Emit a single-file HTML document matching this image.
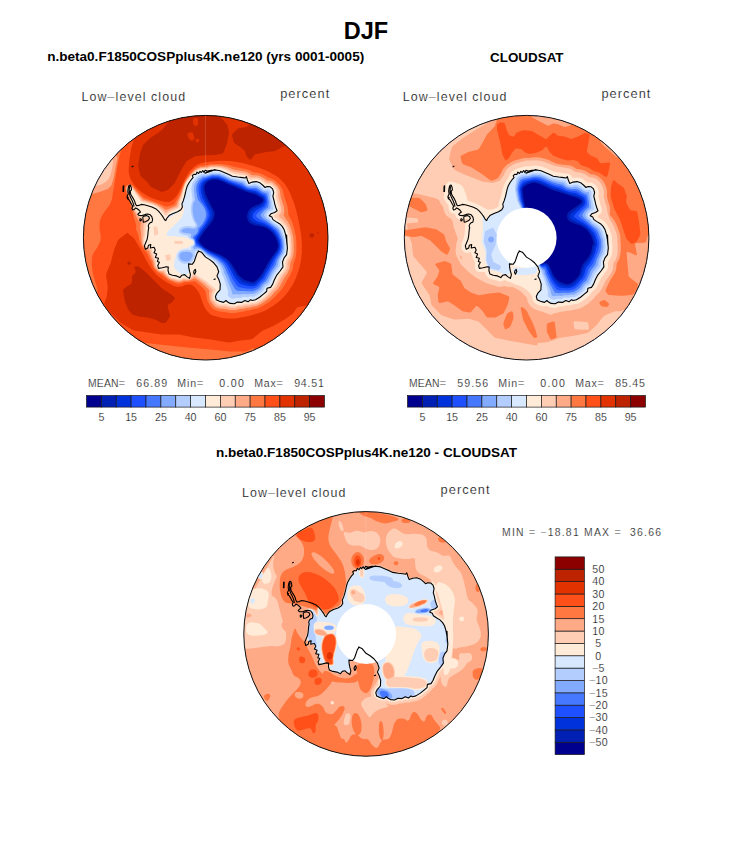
<!DOCTYPE html>
<html><head><meta charset="utf-8"><title>DJF</title>
<style>html,body{margin:0;padding:0;background:#fff}svg{display:block}</style></head><body>
<svg width="733" height="853" viewBox="0 0 733 853">
<defs><clipPath id="clipc"><circle cx="0" cy="0" r="122.3"/></clipPath></defs>
<rect width="733" height="853" fill="#fff"/>
<text x="366.0" y="38.6" font-size="23.50" text-anchor="middle" font-weight="bold" fill="#000" font-family="Liberation Sans, sans-serif"  xml:space="preserve">DJF</text>
<text x="47.2" y="61.0" font-size="13.55" text-anchor="start" font-weight="bold" fill="#000" font-family="Liberation Sans, sans-serif"  xml:space="preserve">n.beta0.F1850COSPplus4K.ne120 (yrs 0001-0005)</text>
<text x="526.8" y="61.8" font-size="13.40" text-anchor="middle" font-weight="bold" fill="#000" font-family="Liberation Sans, sans-serif"  xml:space="preserve">CLOUDSAT</text>
<text x="366.5" y="456.8" font-size="13.52" text-anchor="middle" font-weight="bold" fill="#000" font-family="Liberation Sans, sans-serif"  xml:space="preserve">n.beta0.F1850COSPplus4K.ne120 - CLOUDSAT</text>
<text x="81.6" y="100.8" font-size="12.40" text-anchor="start"  fill="#000" font-family="Liberation Sans, sans-serif"  stroke="#fff" stroke-width="0.22" textLength="103.5" lengthAdjust="spacing" xml:space="preserve">Low–level cloud</text>
<text x="280.2" y="97.6" font-size="12.80" text-anchor="start"  fill="#000" font-family="Liberation Sans, sans-serif"  stroke="#fff" stroke-width="0.22" textLength="49.0" lengthAdjust="spacing" xml:space="preserve">percent</text>
<text x="402.8" y="100.8" font-size="12.40" text-anchor="start"  fill="#000" font-family="Liberation Sans, sans-serif"  stroke="#fff" stroke-width="0.22" textLength="103.5" lengthAdjust="spacing" xml:space="preserve">Low–level cloud</text>
<text x="601.4" y="97.6" font-size="12.80" text-anchor="start"  fill="#000" font-family="Liberation Sans, sans-serif"  stroke="#fff" stroke-width="0.22" textLength="49.0" lengthAdjust="spacing" xml:space="preserve">percent</text>
<text x="242.0" y="496.8" font-size="12.40" text-anchor="start"  fill="#000" font-family="Liberation Sans, sans-serif"  stroke="#fff" stroke-width="0.22" textLength="103.5" lengthAdjust="spacing" xml:space="preserve">Low–level cloud</text>
<text x="440.6" y="493.6" font-size="12.80" text-anchor="start"  fill="#000" font-family="Liberation Sans, sans-serif"  stroke="#fff" stroke-width="0.22" textLength="49.0" lengthAdjust="spacing" xml:space="preserve">percent</text>
<g transform="translate(205.7 237.7)">
<g clip-path="url(#clipc)">
<rect x="-130" y="-130" width="260" height="260" fill="#00008F"/>
<path fill="#0020B4" fill-rule="evenodd" d="M126.0 126.0L-126.0 126.0L-126.0 -126.0L126.0 -126.0L126.0 126.0ZM48.5 44.0L49.3 43.6L52.7 40.5L55.7 36.8L59.7 30.0L62.8 24.3L66.4 19.0L70.6 13.3L71.7 11.1L72.4 8.3L72.0 5.0L70.4 0.7L69.1 -1.7L68.0 -3.2L66.3 -5.2L63.9 -7.7L60.7 -9.7L57.3 -11.0L53.0 -11.9L51.0 -12.0L48.0 -12.8L47.0 -13.3L45.0 -14.3L43.3 -15.5L42.3 -17.1L41.7 -18.9L41.4 -20.0L41.5 -22.7L42.2 -25.7L43.3 -27.8L44.8 -29.3L47.0 -30.7L49.7 -32.1L53.7 -33.6L54.9 -34.3L56.5 -35.7L57.2 -36.7L57.4 -37.3L57.3 -38.3L56.5 -39.3L55.2 -40.3L49.6 -43.3L42.3 -45.5L37.7 -47.3L32.3 -49.5L29.2 -51.0L22.0 -53.7L18.1 -55.7L12.1 -58.0L7.3 -58.1L4.0 -57.3L1.3 -55.8L-0.1 -54.0L-0.8 -52.7L-1.2 -51.3L-1.2 -49.0L-0.5 -45.0L0.6 -41.7L3.6 -35.7L6.0 -31.3L8.6 -26.3L9.0 -23.7L8.6 -21.0L8.0 -19.3L6.5 -16.3L-1.3 -6.5L-5.2 -0.7L-6.4 2.0L-6.5 3.0L-6.4 3.7L-4.0 7.0L-0.8 10.0L4.3 13.0L15.0 17.4L19.7 20.0L22.7 22.3L25.9 26.3L30.2 33.0L31.7 35.7L32.9 37.3L36.0 40.4L38.3 41.8L41.7 43.2L46.0 44.3L47.3 44.3L48.5 44.0Z"/>
<path fill="#0032DC" fill-rule="evenodd" d="M126.0 126.0L-126.0 126.0L-126.0 -126.0L126.0 -126.0L126.0 126.0ZM47.8 46.0L49.3 45.5L50.3 44.8L53.7 41.7L56.7 38.0L67.0 20.3L71.6 14.0L72.6 11.7L73.4 8.7L73.0 4.7L71.7 0.7L70.0 -2.5L67.3 -6.0L64.3 -8.8L61.0 -10.9L57.3 -12.5L53.3 -13.6L51.7 -13.8L48.3 -15.1L45.5 -17.0L44.7 -18.0L44.3 -19.0L43.9 -20.7L44.0 -22.0L44.4 -24.3L45.3 -26.4L46.3 -27.5L48.4 -29.0L50.6 -30.3L54.7 -32.2L56.0 -33.2L57.7 -34.9L58.4 -36.3L58.6 -37.7L58.3 -38.7L57.7 -39.9L56.9 -40.7L50.0 -44.6L48.3 -45.2L43.0 -46.4L40.7 -47.2L30.0 -51.9L22.7 -54.6L18.7 -56.5L12.7 -58.9L11.3 -59.1L7.0 -59.1L3.3 -58.1L0.7 -56.7L-1.8 -54.0L-2.3 -53.0L-2.8 -51.3L-3.0 -48.7L-2.6 -45.7L-1.9 -43.0L-1.2 -41.0L1.9 -34.7L4.5 -30.0L6.4 -26.0L6.7 -23.7L6.5 -21.7L6.2 -20.3L5.2 -18.0L4.0 -16.0L0.0 -10.3L-2.7 -7.0L-6.6 -1.0L-7.9 1.7L-7.9 2.7L-7.6 4.0L-4.9 7.3L-1.3 10.5L4.3 14.0L14.3 18.3L19.0 21.2L21.6 23.3L24.6 27.3L30.9 38.0L35.0 42.6L36.7 43.7L40.3 45.1L45.3 46.2L47.8 46.0Z"/>
<path fill="#1E50FF" fill-rule="evenodd" d="M126.0 126.0L-126.0 126.0L-126.0 -126.0L126.0 -126.0L126.0 126.0ZM47.8 48.3L49.7 47.7L51.0 46.9L57.7 40.0L65.9 26.0L68.7 20.7L72.9 14.3L73.9 12.0L74.6 9.0L74.3 4.7L73.6 2.0L71.3 -3.0L68.8 -6.7L65.0 -10.0L62.0 -12.0L58.0 -14.1L52.3 -16.2L50.6 -17.0L48.2 -18.7L47.6 -19.3L47.3 -20.0L47.0 -21.3L47.2 -23.0L47.5 -24.0L48.1 -25.0L51.3 -27.8L57.0 -31.3L58.8 -33.3L59.7 -35.2L60.0 -36.3L59.9 -38.3L59.3 -39.9L58.7 -41.1L58.0 -41.7L50.3 -46.2L48.7 -46.7L43.3 -47.6L41.0 -48.3L38.7 -49.3L34.7 -51.5L23.0 -55.7L18.8 -57.7L13.0 -60.0L11.7 -60.2L6.7 -60.2L4.0 -59.5L1.3 -58.5L-1.4 -57.0L-2.7 -55.9L-3.6 -54.7L-4.9 -51.7L-5.1 -48.3L-4.7 -45.3L-3.4 -40.3L2.9 -28.0L4.0 -24.7L4.0 -22.0L2.9 -18.7L0.8 -14.7L-1.4 -11.3L-4.3 -7.7L-6.4 -4.0L-8.1 -1.7L-9.3 0.3L-9.6 2.0L-9.2 4.3L-8.3 5.5L-5.6 8.0L-1.8 11.0L2.3 13.9L4.0 14.9L13.3 19.3L16.3 21.3L19.3 23.7L20.6 25.0L22.9 28.3L29.0 39.7L32.3 44.2L33.8 45.7L35.0 46.4L40.0 47.9L45.3 48.6L47.8 48.3Z"/>
<path fill="#4678FF" fill-rule="evenodd" d="M126.0 126.0L-126.0 126.0L-126.0 -126.0L126.0 -126.0L126.0 126.0ZM47.1 51.0L49.3 50.4L51.9 49.0L54.7 45.7L59.0 41.7L63.7 33.3L67.9 26.7L70.1 21.3L74.3 14.7L75.0 13.0L75.8 9.7L75.8 8.3L75.5 4.3L74.9 1.7L72.5 -4.0L70.3 -7.3L66.0 -11.0L62.7 -13.4L60.0 -15.1L55.7 -17.4L52.6 -19.3L51.0 -20.7L50.4 -21.7L50.4 -22.3L50.8 -23.0L52.4 -25.0L58.3 -29.8L60.0 -31.3L60.5 -32.0L61.3 -34.7L61.5 -36.3L61.2 -38.7L60.3 -41.5L59.9 -42.3L59.3 -42.9L56.0 -44.5L50.7 -47.9L48.3 -48.4L44.0 -48.7L41.7 -49.3L39.0 -50.6L35.7 -52.8L23.7 -56.7L17.7 -59.5L13.0 -61.3L6.7 -61.4L-1.3 -58.9L-2.7 -58.2L-4.3 -56.8L-5.8 -54.7L-7.1 -51.7L-7.3 -47.7L-6.5 -43.0L-5.6 -39.3L-4.5 -37.3L-0.6 -31.3L0.7 -28.7L1.8 -25.0L2.0 -22.3L1.5 -20.3L0.9 -18.3L-0.9 -14.7L-2.7 -12.1L-5.4 -9.0L-7.5 -4.3L-10.2 -1.3L-10.9 -0.3L-11.0 0.7L-9.7 5.9L-9.3 6.7L-8.7 7.3L-4.3 10.1L2.3 15.1L12.3 20.4L15.3 22.6L18.1 25.0L20.1 27.7L21.4 30.0L23.3 34.3L27.1 41.7L30.7 47.2L32.3 49.1L33.3 49.5L40.3 50.7L45.3 51.1L47.1 51.0Z"/>
<path fill="#82AAFF" fill-rule="evenodd" d="M126.0 126.0L-126.0 126.0L-126.0 -126.0L126.0 -126.0L126.0 126.0ZM48.3 53.3L50.6 52.3L53.3 50.7L54.0 50.0L56.1 47.0L60.6 43.0L65.5 34.0L70.0 27.3L71.6 22.0L75.8 15.0L76.4 13.3L77.0 10.3L77.1 8.3L76.4 2.0L73.7 -5.0L72.6 -7.0L71.3 -8.6L70.3 -9.5L61.3 -16.4L57.5 -19.0L55.9 -20.7L54.9 -22.3L55.1 -23.3L56.7 -25.3L58.3 -27.1L62.1 -30.3L62.5 -31.0L63.0 -34.3L63.0 -36.3L62.1 -41.3L61.4 -43.7L60.7 -44.3L58.3 -45.1L56.7 -45.8L53.0 -48.5L51.0 -49.6L49.3 -50.0L44.7 -50.0L42.0 -50.5L39.3 -52.0L36.7 -54.2L24.3 -57.8L18.0 -60.7L13.3 -62.5L6.3 -62.6L2.7 -61.4L-1.0 -60.7L-3.2 -60.0L-6.0 -57.9L-8.4 -54.3L-9.2 -52.3L-9.6 -47.7L-8.8 -42.7L-7.9 -38.7L-7.1 -37.3L-3.0 -32.1L-1.3 -29.4L-0.6 -27.7L-0.0 -25.7L0.3 -23.7L0.2 -22.3L-0.3 -19.7L-1.7 -16.4L-3.7 -13.3L-7.1 -9.7L-7.6 -8.3L-7.9 -6.0L-8.3 -5.1L-9.3 -3.9L-12.0 -1.7L-12.7 -0.7L-12.7 0.0L-11.5 1.7L-11.0 3.0L-10.4 6.0L-10.4 8.7L-6.3 10.0L-4.3 11.1L-1.7 13.0L2.3 16.3L11.7 21.7L16.5 26.0L18.2 28.3L19.7 31.3L21.0 35.0L22.6 38.0L25.0 43.7L28.3 49.9L30.0 52.4L31.0 52.8L33.0 53.2L37.0 53.2L41.3 53.6L46.7 53.7L48.3 53.3Z"/>
<path fill="#B4CDFF" fill-rule="evenodd" d="M126.0 126.0L-126.0 126.0L-126.0 -126.0L126.0 -126.0L126.0 126.0ZM35.2 56.7L37.7 56.2L41.3 56.5L44.0 56.2L47.7 56.3L51.0 54.9L54.0 52.9L55.7 51.5L57.7 48.2L59.0 46.9L61.4 45.3L62.1 44.7L67.1 35.0L71.8 28.3L72.2 27.3L73.3 22.3L75.2 18.7L77.0 16.0L77.7 14.0L78.3 11.0L78.4 9.0L77.9 2.3L77.4 0.3L74.9 -6.3L73.6 -8.3L72.3 -10.0L66.0 -14.5L62.7 -17.7L60.3 -19.4L59.3 -20.7L58.5 -22.3L58.4 -23.0L58.7 -23.7L60.0 -25.6L62.3 -27.9L64.5 -29.3L64.8 -30.0L64.7 -35.7L63.8 -40.3L63.2 -45.0L62.9 -45.7L62.3 -46.2L59.7 -46.4L57.6 -47.0L54.0 -49.8L51.7 -51.2L49.7 -51.8L47.3 -51.7L44.7 -51.4L42.3 -51.7L41.3 -52.2L40.0 -53.2L38.3 -55.2L37.7 -55.7L25.0 -58.8L18.3 -61.9L13.7 -63.7L6.3 -63.8L2.3 -62.4L-0.7 -62.2L-3.7 -61.7L-6.3 -60.2L-7.7 -59.0L-10.0 -55.7L-11.3 -53.3L-11.9 -48.7L-11.9 -47.0L-10.6 -38.3L-10.8 -37.3L-12.1 -35.3L-12.7 -33.7L-13.2 -30.0L-13.1 -26.3L-12.5 -22.7L-11.7 -19.5L-10.7 -17.0L-8.4 -13.3L-8.2 -12.3L-8.3 -11.7L-9.3 -10.0L-10.7 -9.2L-12.7 -9.0L-17.7 -9.6L-20.3 -9.4L-22.3 -8.7L-23.6 -8.0L-24.2 -7.3L-24.4 -6.7L-23.9 -6.0L-22.7 -5.3L-20.0 -4.7L-16.0 -4.3L-15.0 -3.9L-14.5 -3.3L-14.4 -2.7L-14.8 -1.0L-14.7 -0.3L-14.2 0.3L-12.0 1.9L-11.3 3.7L-11.0 5.7L-11.0 6.7L-11.3 7.5L-12.3 8.7L-12.7 9.3L-12.6 10.0L-11.7 11.1L-11.3 11.4L-10.7 11.5L-9.0 10.9L-7.7 10.8L-6.0 11.2L-4.3 12.1L-2.5 13.3L1.7 17.1L10.2 22.3L11.4 23.3L15.0 27.0L16.4 29.3L17.8 32.3L18.6 35.7L20.3 39.0L22.5 45.0L25.8 52.7L26.7 56.3L27.3 56.7L30.3 56.5L34.0 56.9L35.2 56.7ZM-18.2 23.7L-15.8 22.7L-15.0 21.9L-14.0 20.5L-13.3 19.1L-13.0 17.7L-13.1 16.7L-13.7 15.6L-14.3 15.0L-15.7 14.4L-18.3 14.0L-23.0 14.2L-24.2 14.7L-25.2 15.3L-26.1 16.7L-26.3 18.3L-26.0 20.1L-25.0 21.8L-23.5 23.0L-22.0 23.6L-20.0 23.8L-18.2 23.7Z"/>
<path fill="#D7E8FF" fill-rule="evenodd" d="M126.0 126.0L-126.0 126.0L-126.0 -126.0L126.0 -126.0L126.0 126.0ZM27.9 61.0L30.7 60.2L35.0 60.4L37.3 59.4L38.3 59.2L40.0 59.2L41.7 59.6L44.3 58.8L47.3 59.0L49.0 58.6L52.2 57.0L55.7 54.5L58.0 52.3L58.8 50.0L59.6 49.0L60.7 48.2L62.7 47.2L63.3 46.6L64.4 45.0L68.7 36.0L71.6 32.3L74.2 28.7L74.8 23.0L76.5 19.3L78.7 16.0L79.6 11.3L79.7 9.0L79.4 6.3L79.3 2.3L78.9 0.0L78.0 -1.7L76.3 -7.0L74.2 -10.3L72.7 -11.8L66.7 -15.9L65.2 -17.3L64.3 -18.7L62.3 -20.1L61.4 -21.3L61.2 -23.0L61.4 -23.7L62.0 -24.7L64.0 -26.5L67.1 -28.0L67.4 -28.7L66.3 -36.0L65.3 -40.3L65.2 -45.3L64.6 -47.0L63.8 -48.0L62.7 -48.4L60.0 -48.1L58.4 -48.3L55.3 -51.0L53.4 -52.3L50.3 -53.5L49.3 -53.6L47.0 -53.3L44.3 -52.7L42.7 -52.9L41.0 -54.2L39.5 -56.7L38.7 -57.3L31.2 -58.7L25.7 -60.0L23.0 -61.0L18.7 -63.1L14.0 -65.0L6.0 -65.1L5.3 -65.0L3.7 -64.1L2.0 -63.6L1.0 -63.5L-0.3 -63.8L-3.0 -63.6L-4.7 -63.2L-7.3 -61.9L-9.8 -60.0L-10.3 -58.7L-13.3 -54.7L-13.7 -53.0L-14.3 -49.0L-14.3 -47.0L-13.0 -38.3L-14.6 -32.3L-14.8 -29.3L-14.7 -26.3L-14.2 -23.0L-13.5 -20.0L-12.1 -16.3L-10.3 -13.7L-10.2 -13.0L-10.3 -12.0L-11.0 -11.3L-12.3 -10.9L-15.0 -11.5L-17.3 -11.8L-19.7 -11.7L-21.7 -11.3L-23.7 -10.5L-25.5 -9.3L-26.4 -8.3L-26.9 -7.0L-26.8 -6.0L-26.4 -5.3L-25.0 -4.0L-22.3 -2.9L-17.7 -2.2L-16.4 0.0L-15.5 0.7L-12.7 2.1L-11.9 3.3L-11.5 5.3L-11.6 6.3L-12.0 7.2L-13.9 8.7L-14.5 9.3L-14.7 10.0L-14.2 11.7L-14.3 12.2L-15.0 12.3L-18.0 11.9L-21.7 12.2L-24.3 12.8L-26.4 14.0L-27.3 15.1L-28.0 16.7L-28.3 18.7L-28.1 20.7L-27.5 22.0L-26.6 23.3L-25.3 24.4L-24.0 25.2L-22.3 25.7L-20.3 26.0L-18.7 26.0L-17.3 25.7L-15.7 25.1L-14.4 24.3L-13.3 23.3L-12.4 22.0L-11.5 20.3L-10.9 18.3L-10.8 17.0L-11.2 15.0L-9.8 13.3L-8.3 12.3L-7.3 12.0L-5.8 12.3L-3.7 13.5L1.0 17.9L9.3 23.4L13.6 28.3L15.7 33.0L16.1 36.0L18.0 40.0L22.2 53.0L22.4 54.0L22.1 57.3L22.2 58.0L24.3 59.9L25.5 60.7L27.0 61.1L27.9 61.0Z"/>
<path fill="#FFEBD7" fill-rule="evenodd" d="M126.0 126.0L-126.0 126.0L-126.0 -126.0L126.0 -126.0L126.0 126.0ZM29.0 66.0L32.0 64.5L34.0 64.8L36.0 64.7L39.0 63.1L39.7 63.1L42.3 64.0L43.0 63.8L44.7 62.6L45.3 62.5L46.3 62.8L47.3 62.8L49.0 62.4L50.8 61.7L53.7 60.0L57.1 57.3L60.8 53.7L61.8 51.0L63.3 50.1L67.1 46.3L71.3 37.3L74.3 33.7L77.2 29.7L77.5 28.7L77.2 26.7L77.3 23.7L78.8 20.3L81.1 16.7L81.8 12.0L81.8 8.3L81.5 5.7L81.5 1.3L81.1 -1.0L80.2 -2.7L78.7 -8.0L77.1 -10.7L73.3 -14.5L68.0 -17.9L64.4 -22.0L64.4 -22.7L65.0 -23.5L67.0 -24.6L68.3 -26.0L69.7 -27.0L70.6 -28.3L70.8 -29.0L69.6 -32.7L67.5 -41.0L67.5 -42.0L68.1 -44.7L68.0 -46.0L67.4 -47.3L64.0 -50.7L63.3 -51.1L62.3 -51.2L59.3 -50.7L58.7 -51.2L56.3 -53.5L54.7 -54.7L53.3 -55.4L51.0 -56.1L48.3 -56.1L46.0 -55.7L44.0 -55.0L43.3 -55.0L41.1 -57.3L40.3 -58.7L38.3 -60.0L32.0 -60.9L26.7 -61.9L23.7 -63.1L19.0 -65.4L15.0 -67.0L13.7 -67.4L9.0 -68.1L5.3 -67.8L4.7 -67.4L3.3 -66.3L1.7 -65.7L1.0 -65.9L-0.3 -66.8L-1.7 -66.2L-2.7 -66.7L-3.3 -66.7L-4.3 -66.1L-5.7 -66.0L-7.0 -65.1L-8.3 -64.7L-10.3 -62.8L-11.8 -62.0L-13.0 -59.9L-16.0 -56.3L-18.0 -53.0L-19.7 -48.3L-21.6 -40.3L-22.6 -37.0L-23.8 -34.0L-23.8 -32.3L-23.3 -30.5L-21.7 -31.5L-21.3 -31.2L-21.2 -30.7L-21.6 -28.0L-23.0 -22.0L-24.0 -20.3L-29.9 -13.7L-37.3 -7.0L-38.2 -5.7L-39.0 -3.7L-39.2 -3.0L-39.1 -2.3L-38.7 -2.0L-38.0 -1.8L-30.3 -1.5L-23.3 -0.8L-19.3 -0.2L-17.0 1.2L-13.4 2.7L-12.8 3.3L-12.5 4.0L-12.3 5.7L-12.7 6.5L-15.7 8.3L-17.3 9.7L-25.0 11.8L-27.0 12.9L-28.1 14.0L-29.2 16.0L-30.1 20.0L-31.1 23.0L-31.7 27.0L-31.7 28.7L-30.7 30.7L-28.7 33.3L-27.7 34.4L-22.8 37.0L-21.0 37.2L-20.0 37.6L-19.7 37.6L-18.0 36.2L-16.1 34.0L-16.8 29.3L-16.6 27.3L-16.3 27.0L-15.0 26.8L-14.3 26.4L-11.0 23.0L-10.2 21.3L-8.5 16.0L-7.7 14.5L-6.7 14.0L-5.7 14.3L-4.3 15.0L0.3 19.8L8.0 25.3L11.0 29.3L12.4 33.0L12.6 34.0L12.5 34.7L11.3 38.3L12.7 41.7L14.4 46.3L14.2 51.3L13.8 52.3L11.9 54.3L10.6 56.3L9.6 58.3L9.6 59.0L9.9 59.7L13.7 63.5L14.7 64.1L17.7 64.7L20.3 63.2L20.8 63.3L23.0 65.0L24.3 65.7L26.7 66.1L29.0 66.0ZM-38.2 -19.3L-27.8 -25.3L-26.1 -26.7L-25.8 -27.0L-26.0 -27.3L-28.0 -26.2L-32.7 -24.6L-35.3 -23.0L-37.4 -21.0L-38.7 -19.3L-38.7 -19.2L-38.2 -19.3Z"/>
<path fill="#FFCDB4" fill-rule="evenodd" d="M126.0 126.0L-126.0 126.0L-126.0 -126.0L126.0 -126.0L126.0 126.0ZM29.1 68.3L32.3 67.2L36.7 67.0L39.3 65.8L41.0 66.1L43.0 66.1L45.7 65.1L48.0 65.0L50.0 64.6L52.0 63.8L56.0 61.3L58.0 59.7L62.1 55.7L64.0 52.8L65.7 51.4L69.0 48.0L73.9 38.0L77.7 33.3L79.4 30.3L79.8 28.7L79.5 25.7L79.6 25.0L80.7 22.0L83.2 18.0L83.7 16.0L84.1 13.0L84.1 7.3L83.8 4.7L83.7 0.0L81.3 -8.0L79.3 -11.7L74.8 -16.3L70.0 -19.6L68.6 -21.0L68.2 -21.7L68.3 -22.0L69.7 -23.1L72.5 -26.0L73.0 -27.0L73.1 -28.0L73.0 -30.3L71.9 -33.7L70.2 -40.7L70.1 -42.3L70.4 -44.0L70.4 -46.3L69.8 -48.3L69.0 -49.7L65.7 -52.8L64.3 -53.3L59.7 -53.6L57.0 -55.9L54.2 -57.7L51.0 -58.4L47.7 -58.4L44.7 -58.0L44.0 -58.4L41.0 -61.3L39.3 -62.3L33.0 -63.1L27.7 -64.2L24.7 -65.3L20.0 -67.6L14.7 -69.5L11.7 -69.9L5.3 -69.9L4.4 -69.7L2.0 -68.4L-3.3 -68.6L-5.1 -68.3L-7.8 -67.3L-10.0 -66.1L-14.4 -61.7L-17.9 -57.3L-19.0 -55.6L-20.7 -52.2L-21.7 -49.2L-23.7 -41.3L-25.9 -34.7L-26.1 -31.3L-26.9 -30.0L-28.0 -29.1L-29.3 -28.4L-34.5 -26.3L-37.0 -24.7L-39.3 -22.4L-40.0 -22.1L-40.7 -22.4L-43.7 -26.3L-47.7 -30.2L-49.3 -31.3L-52.3 -32.8L-56.9 -34.3L-60.3 -35.2L-63.3 -35.7L-64.3 -36.2L-65.4 -37.3L-71.3 -46.0L-74.3 -50.1L-74.7 -50.3L-75.3 -50.4L-78.0 -49.6L-78.4 -49.0L-78.0 -46.7L-75.5 -40.7L-73.7 -34.4L-70.7 -28.7L-68.6 -26.0L-67.0 -23.2L-65.7 -21.7L-64.0 -20.6L-63.0 -20.3L-61.3 -20.2L-58.0 -20.8L-57.0 -20.2L-56.3 -19.0L-56.2 -18.0L-56.5 -17.0L-59.0 -14.1L-59.8 -12.3L-60.1 -5.0L-60.8 -1.0L-61.6 2.7L-61.5 5.7L-61.1 6.7L-59.0 9.7L-58.3 10.1L-57.0 10.0L-56.3 10.2L-54.0 11.8L-53.6 12.3L-53.1 15.3L-52.1 17.3L-51.6 19.7L-50.1 22.3L-49.4 28.3L-49.0 29.1L-48.0 30.3L-46.5 31.7L-45.3 32.2L-42.7 32.3L-41.0 32.1L-40.4 32.3L-39.7 34.6L-39.1 35.7L-35.7 39.1L-33.8 40.0L-30.3 40.8L-27.7 41.6L-25.0 41.6L-24.3 41.3L-22.7 40.2L-22.0 40.0L-21.3 40.1L-20.3 40.7L-19.3 40.9L-17.7 40.9L-16.7 40.7L-15.8 40.0L-13.8 38.0L-13.3 37.0L-13.1 35.0L-12.7 34.7L-4.7 40.2L0.2 43.3L10.4 51.7L10.5 52.0L10.4 52.3L8.7 54.7L7.7 56.7L7.6 60.3L7.9 61.3L8.3 62.0L11.7 65.4L12.7 66.0L15.0 66.7L18.7 66.8L20.3 66.4L22.7 67.6L25.2 68.3L29.1 68.3ZM-50.0 -2.3L-51.0 -2.1L-51.3 -2.5L-51.5 -3.0L-52.1 -10.3L-51.8 -11.0L-51.3 -11.2L-49.3 -11.2L-48.5 -10.7L-47.6 -5.3L-47.5 -4.0L-47.7 -3.6L-50.0 -2.3ZM-23.3 6.1L-30.7 6.1L-31.3 5.7L-31.5 4.0L-31.3 3.7L-30.7 3.4L-23.7 3.2L-23.2 3.7L-22.9 4.7L-22.9 5.7L-23.3 6.1ZM-37.7 23.1L-38.7 23.3L-39.3 22.7L-40.5 18.0L-40.3 17.6L-39.7 17.3L-36.0 16.6L-35.7 16.7L-35.3 17.3L-34.7 21.3L-35.3 22.1L-37.7 23.1Z"/>
<path fill="#FFAA87" fill-rule="evenodd" d="M126.0 126.0L-126.0 126.0L-126.0 -51.5L-116.3 -51.5L-107.7 -52.1L-106.3 -52.5L-103.4 -53.7L-100.1 -55.7L-98.7 -57.0L-97.2 -58.7L-95.4 -62.3L-93.9 -67.7L-92.4 -76.7L-92.7 -77.7L-93.6 -78.3L-103.7 -82.2L-126.0 -85.9L-126.0 -126.0L126.0 -126.0L126.0 126.0ZM30.1 70.0L33.0 69.0L37.0 68.8L39.7 67.9L43.7 67.7L46.0 66.9L48.3 66.7L50.7 66.2L52.3 65.5L55.0 64.0L58.9 61.3L63.8 56.7L65.7 54.2L70.7 49.3L75.8 39.3L79.5 34.3L80.9 32.0L81.5 30.7L81.7 29.3L81.9 25.0L82.7 22.9L84.8 19.0L85.5 16.3L85.8 13.3L85.8 6.7L85.5 4.0L85.4 -0.3L83.1 -8.7L81.6 -12.0L80.7 -13.4L76.5 -18.3L73.3 -21.0L72.9 -21.7L73.1 -22.3L74.8 -24.7L75.4 -26.0L75.5 -27.3L75.4 -30.3L72.2 -41.3L72.3 -43.7L72.0 -47.0L71.3 -49.0L70.2 -50.7L67.3 -53.5L66.3 -54.2L64.7 -54.9L60.6 -55.3L58.0 -57.4L54.7 -59.3L51.7 -60.1L45.3 -60.2L44.7 -60.5L41.7 -63.0L40.0 -63.9L28.0 -66.0L25.3 -66.9L20.7 -68.9L15.7 -70.5L12.3 -71.0L5.0 -70.9L4.0 -70.7L1.7 -69.7L-4.7 -69.5L-8.0 -68.3L-10.3 -67.0L-15.0 -62.2L-19.3 -56.5L-20.6 -54.0L-21.7 -51.3L-24.5 -41.7L-27.0 -35.3L-27.4 -32.3L-28.0 -31.1L-28.7 -30.5L-30.3 -29.7L-35.3 -27.6L-39.7 -25.0L-40.3 -25.2L-42.1 -27.0L-47.0 -31.2L-48.9 -32.3L-52.0 -33.8L-56.3 -35.3L-63.0 -37.0L-63.7 -37.3L-65.0 -38.9L-74.1 -51.0L-75.0 -51.3L-76.3 -51.2L-78.0 -50.6L-78.7 -50.2L-79.0 -49.7L-79.1 -49.0L-78.3 -45.7L-76.0 -40.3L-74.3 -34.3L-71.1 -27.3L-69.6 -25.3L-68.3 -22.7L-65.3 -19.1L-63.7 -18.2L-61.0 -17.6L-60.3 -17.3L-60.4 -16.7L-61.9 -14.0L-62.2 -12.7L-62.2 -3.3L-62.9 2.0L-62.6 6.0L-62.0 7.2L-59.4 10.7L-58.7 11.1L-56.7 11.6L-55.7 12.3L-55.0 13.2L-54.4 16.0L-53.5 17.7L-52.7 20.3L-51.4 22.7L-50.5 28.0L-50.0 29.3L-49.5 30.0L-47.3 32.2L-46.3 33.0L-45.3 33.3L-41.7 33.8L-40.0 36.5L-36.0 40.2L-34.0 41.1L-31.0 41.9L-28.3 42.8L-24.7 42.7L-22.0 41.4L-20.0 41.9L-16.7 41.8L-15.2 41.0L-12.7 39.0L-11.7 38.0L-11.0 38.0L-0.7 45.0L5.7 50.7L7.0 52.0L7.1 52.7L5.8 56.3L6.0 61.3L6.9 63.0L10.7 67.1L12.0 67.8L14.3 68.5L20.0 68.7L22.3 69.6L24.7 70.1L28.3 70.2L30.1 70.0Z"/>
<path fill="#FF7841" fill-rule="evenodd" d="M126.0 126.0L-126.0 126.0L-126.0 -43.2L-120.7 -43.2L-112.7 -43.9L-107.0 -45.5L-100.7 -47.6L-98.0 -48.7L-96.7 -49.7L-95.0 -51.5L-94.2 -52.7L-92.7 -57.3L-91.6 -62.0L-90.4 -69.3L-88.1 -80.3L-88.3 -81.0L-89.3 -81.8L-100.3 -86.2L-126.0 -89.5L-126.0 -126.0L126.0 -126.0L126.0 126.0ZM29.4 72.3L31.0 72.1L33.7 71.2L37.0 71.0L40.3 70.2L44.0 69.8L46.7 69.0L51.0 68.2L53.0 67.4L56.0 65.9L60.3 62.9L65.7 58.2L67.7 55.9L72.8 50.7L78.1 41.0L81.5 36.0L83.5 32.0L84.1 30.0L84.6 25.3L86.9 20.0L87.6 17.0L88.0 13.7L88.0 6.3L87.5 -1.0L85.4 -9.3L83.9 -13.0L82.7 -15.3L78.0 -22.0L77.9 -22.7L78.4 -25.0L78.6 -26.3L78.1 -31.0L74.9 -41.3L74.6 -44.3L74.1 -47.3L73.3 -49.3L71.8 -51.7L69.1 -54.3L67.3 -55.8L65.3 -56.7L61.3 -57.5L59.0 -59.2L55.3 -61.2L52.3 -62.1L46.0 -62.7L42.7 -64.9L40.3 -65.9L28.7 -68.0L21.7 -70.4L17.3 -71.6L15.3 -72.0L12.3 -72.3L5.0 -72.1L4.0 -71.9L1.3 -71.0L-5.0 -70.5L-8.3 -69.2L-10.8 -67.7L-15.3 -62.9L-19.3 -57.7L-21.0 -54.5L-21.8 -52.7L-25.3 -42.1L-28.2 -35.7L-29.4 -32.3L-30.2 -31.7L-32.3 -30.7L-39.3 -28.0L-40.3 -28.3L-46.3 -32.3L-48.7 -33.5L-52.0 -35.0L-62.7 -38.4L-65.7 -41.7L-73.3 -51.3L-74.0 -51.9L-75.3 -52.2L-76.7 -52.2L-78.0 -51.7L-79.0 -51.0L-79.5 -50.3L-79.6 -49.3L-79.0 -46.0L-76.5 -40.3L-74.9 -34.3L-72.5 -28.0L-68.8 -20.0L-67.0 -17.0L-65.5 -15.3L-65.1 -14.7L-65.4 -9.7L-64.5 -3.7L-64.4 2.0L-63.5 6.7L-62.8 8.0L-60.3 11.1L-59.3 12.0L-57.5 13.0L-56.7 14.0L-55.7 17.0L-55.0 18.3L-54.2 20.7L-52.7 23.3L-51.4 28.7L-51.0 29.7L-50.2 30.7L-48.0 33.0L-46.7 34.1L-42.7 35.3L-41.0 37.4L-36.9 41.0L-34.3 42.3L-29.0 44.1L-27.3 44.2L-24.7 44.0L-21.7 42.9L-20.0 43.0L-16.7 42.9L-15.0 42.4L-11.3 40.6L-10.3 40.8L-8.0 42.3L-2.0 46.8L3.4 52.3L3.8 53.3L3.4 55.3L3.4 56.7L3.9 61.0L4.2 62.3L4.8 63.7L5.7 64.9L9.3 69.0L11.0 69.9L14.0 70.8L19.3 71.2L22.0 71.9L24.3 72.4L29.4 72.3Z"/>
<path fill="#FF5019" fill-rule="evenodd" d="M126.0 126.0L43.1 126.0L43.7 125.5L45.0 125.0L58.7 121.5L59.7 120.9L60.0 120.3L60.0 120.0L59.3 119.1L58.0 118.0L49.7 111.5L48.0 110.7L47.3 110.6L46.3 110.9L41.7 113.2L40.0 113.7L24.3 113.7L4.3 111.7L-15.7 110.0L-49.3 106.5L-62.7 104.8L-63.3 104.9L-64.0 105.3L-64.5 106.7L-64.5 126.0L-126.0 126.0L-126.0 66.8L-125.0 67.1L-123.0 68.2L-121.3 68.5L-116.7 68.5L-115.3 68.2L-113.7 67.5L-112.3 66.7L-111.5 65.7L-110.2 62.7L-109.1 59.0L-108.3 54.7L-108.4 51.3L-108.7 49.7L-110.4 44.3L-113.2 33.7L-113.9 27.3L-113.8 20.3L-112.7 16.0L-110.1 12.3L-108.5 9.7L-106.0 4.7L-105.3 2.7L-104.9 -1.3L-105.9 -6.7L-106.3 -11.3L-105.9 -16.0L-105.1 -19.0L-104.1 -21.3L-102.0 -25.0L-96.0 -33.0L-93.9 -38.0L-88.7 -69.2L-86.1 -82.0L-84.8 -86.7L-84.4 -90.3L-84.6 -92.0L-85.0 -92.5L-85.7 -92.9L-98.0 -94.5L-118.3 -94.5L-124.0 -93.9L-126.0 -93.2L-126.0 -126.0L126.0 -126.0L126.0 126.0ZM30.8 75.0L34.0 74.2L37.7 73.8L40.7 73.0L44.3 72.5L47.3 71.6L51.7 70.7L53.7 69.9L57.3 68.1L62.7 64.7L68.6 59.7L75.3 52.6L77.9 48.7L81.0 43.0L83.3 39.3L85.6 35.0L86.5 33.0L87.1 30.7L87.9 26.0L89.8 20.3L90.3 18.0L90.7 14.3L90.7 5.3L90.1 -1.7L88.3 -10.0L86.9 -14.3L85.7 -17.3L82.7 -23.0L82.4 -27.3L81.6 -32.0L78.5 -41.3L77.2 -46.7L75.8 -50.0L74.0 -52.7L69.3 -57.2L66.7 -58.8L62.7 -60.1L58.7 -62.5L56.0 -63.7L52.7 -64.7L47.3 -65.6L43.7 -67.4L40.7 -68.4L29.3 -70.6L22.3 -72.6L15.7 -73.8L11.3 -73.8L4.3 -73.4L1.0 -72.5L-4.7 -72.0L-7.3 -71.1L-11.0 -68.9L-13.7 -66.3L-16.5 -63.0L-19.7 -58.3L-21.5 -55.0L-26.2 -43.0L-29.3 -37.1L-31.3 -33.9L-32.0 -33.3L-33.7 -32.5L-38.3 -31.1L-39.3 -31.0L-42.0 -31.9L-47.0 -34.5L-61.7 -40.0L-65.2 -43.3L-69.7 -48.2L-72.7 -52.0L-73.7 -52.8L-75.3 -53.4L-76.7 -53.6L-77.7 -53.3L-79.0 -52.5L-79.8 -51.7L-80.3 -50.7L-80.4 -49.7L-80.2 -48.3L-79.3 -45.0L-76.7 -38.8L-75.5 -34.0L-72.6 -24.0L-71.7 -20.0L-69.6 -13.0L-69.4 -12.0L-69.7 -8.7L-67.3 -2.3L-66.5 1.7L-65.2 6.3L-63.6 9.3L-61.0 12.8L-58.7 15.2L-56.2 21.0L-54.5 24.0L-52.8 29.0L-52.1 30.3L-51.0 31.7L-47.7 35.1L-46.3 35.9L-43.9 37.0L-42.0 38.8L-38.0 42.0L-35.0 43.6L-29.3 45.8L-28.0 46.0L-26.3 46.0L-24.0 45.6L-21.3 44.6L-16.3 44.3L-11.3 43.6L-10.3 43.8L-6.6 46.7L-3.7 49.2L-0.3 53.3L0.0 54.0L1.3 61.7L2.2 64.3L4.0 67.3L6.2 70.0L7.7 71.4L10.3 72.8L14.3 73.8L18.7 74.3L21.7 74.9L24.0 75.2L28.3 75.2L30.8 75.0Z"/>
<path fill="#E13200" fill-rule="evenodd" d="M126.0 126.0L90.9 126.0L92.3 125.4L94.7 124.9L120.3 121.2L121.7 120.7L122.2 120.0L122.3 119.0L122.1 117.7L111.1 70.0L110.5 68.3L110.0 67.8L109.3 67.5L107.7 67.4L94.0 69.1L92.7 69.4L91.7 69.8L90.7 70.7L88.3 74.3L87.2 75.7L80.1 81.0L67.7 88.2L57.0 92.9L52.0 96.9L48.0 100.3L46.7 101.2L44.7 101.7L34.7 102.8L24.3 104.9L22.3 104.8L5.0 101.8L-11.3 99.7L-27.0 96.9L-44.3 96.7L-71.7 92.8L-74.0 91.8L-84.3 85.6L-93.7 76.7L-95.5 74.7L-100.4 68.3L-101.0 67.3L-101.4 66.3L-101.2 64.7L-98.9 58.7L-98.0 50.0L-98.1 47.7L-99.6 38.3L-99.6 36.3L-94.9 24.7L-91.7 12.3L-88.1 3.3L-87.5 2.3L-86.6 1.3L-78.7 -4.8L-78.0 -4.9L-77.7 -4.6L-76.6 -3.3L-73.7 -1.3L-71.2 1.3L-64.8 12.3L-59.3 22.7L-54.3 31.0L-49.3 37.1L-46.7 39.3L-39.9 44.0L-32.5 48.0L-29.3 49.1L-25.7 49.1L-23.7 48.6L-20.3 47.2L-18.0 46.7L-15.7 46.7L-13.7 47.4L-12.0 48.5L-9.8 50.7L-7.2 54.0L-6.2 56.0L-4.8 59.7L-2.7 66.1L-1.0 69.8L1.4 73.3L4.3 76.3L6.1 77.3L8.7 78.3L15.5 80.0L20.7 80.7L29.0 80.7L32.6 80.3L43.0 78.3L53.4 75.3L59.8 72.7L67.3 68.3L72.7 64.3L77.7 59.7L80.3 56.7L83.3 52.7L86.7 47.5L89.7 41.5L92.7 33.6L93.7 30.1L95.0 24.1L95.7 19.3L95.8 17.0L96.1 15.3L96.1 4.0L95.8 2.0L95.7 0.0L94.7 -7.6L92.0 -21.3L90.0 -29.2L88.3 -34.8L84.3 -44.7L82.3 -48.7L79.7 -53.0L78.1 -55.0L73.8 -59.3L71.4 -61.3L63.1 -66.0L57.8 -68.3L53.8 -69.7L47.7 -71.7L36.7 -74.7L29.3 -76.0L24.0 -76.8L15.0 -76.9L3.7 -76.0L1.0 -75.4L-3.0 -74.9L-6.2 -74.0L-9.0 -72.7L-12.0 -70.5L-15.2 -67.3L-16.6 -65.7L-18.5 -62.7L-21.5 -57.3L-22.5 -55.3L-24.3 -50.7L-27.7 -44.0L-31.7 -38.8L-34.7 -36.6L-35.3 -36.3L-37.3 -35.8L-41.7 -36.0L-49.7 -38.2L-55.7 -40.5L-58.0 -41.6L-63.7 -45.2L-67.7 -48.6L-70.6 -51.7L-75.0 -58.3L-75.8 -60.7L-77.1 -66.3L-76.3 -78.3L-74.6 -89.3L-71.7 -98.2L-65.1 -111.3L-65.0 -112.3L-65.2 -113.0L-66.0 -113.4L-67.7 -113.6L-102.3 -113.6L-104.7 -113.4L-105.7 -112.9L-106.7 -111.9L-119.9 -96.3L-121.7 -95.5L-126.0 -94.8L-126.0 -126.0L126.0 -126.0L126.0 126.0Z"/>
<path fill="#BE2300" fill-rule="evenodd" d="M-42.3 -46.3L-43.7 -46.0L-45.0 -46.3L-54.7 -50.7L-55.7 -51.7L-58.6 -56.0L-64.5 -61.3L-65.5 -62.7L-67.3 -71.0L-67.4 -73.3L-65.5 -84.7L-63.0 -91.6L-62.1 -93.3L-56.0 -99.3L-45.0 -106.8L-43.3 -108.3L-33.3 -120.3L-32.9 -121.7L-32.8 -126.0L14.7 -126.0L14.8 -122.0L15.0 -120.7L15.7 -119.7L21.3 -113.3L21.9 -111.7L23.3 -105.7L23.2 -103.7L21.4 -95.0L18.2 -86.0L17.7 -85.0L16.3 -84.2L9.7 -82.6L-0.7 -82.4L-10.7 -81.4L-12.0 -80.8L-18.0 -77.2L-19.0 -76.4L-19.7 -75.6L-24.8 -67.0L-30.5 -55.7L-31.7 -53.7L-37.6 -48.0L-39.0 -47.4L-42.3 -46.3ZM45.0 -78.2L44.3 -78.2L43.7 -78.5L40.9 -81.3L40.3 -82.7L39.5 -86.0L38.7 -87.2L34.7 -90.6L29.6 -94.0L28.5 -95.0L27.9 -96.3L26.6 -101.3L26.4 -102.7L26.5 -103.3L27.5 -104.7L32.3 -109.3L33.7 -109.7L39.3 -110.4L40.7 -110.8L49.3 -116.7L59.7 -121.2L60.7 -121.5L61.3 -121.4L62.7 -120.3L84.1 -97.0L85.0 -95.9L85.1 -95.0L84.7 -94.4L84.0 -94.0L77.7 -91.1L69.3 -86.6L59.0 -85.4L49.7 -83.5L48.5 -82.7L45.9 -79.0L45.0 -78.2ZM-10.1 -111.7L-8.0 -112.8L-7.4 -113.7L-7.7 -118.3L-8.0 -119.3L-8.3 -119.7L-9.3 -119.9L-11.3 -119.8L-12.0 -119.6L-12.4 -119.0L-12.8 -115.3L-11.5 -112.0L-11.0 -111.5L-10.1 -111.7ZM-13.3 -97.3L-11.7 -98.4L-11.1 -99.3L-11.3 -100.3L-12.8 -104.7L-13.3 -105.2L-14.0 -105.4L-17.7 -104.6L-18.2 -104.0L-18.2 -103.3L-17.3 -100.0L-16.5 -99.0L-14.7 -97.3L-14.0 -97.1L-13.3 -97.3ZM-8.7 -95.3L-7.3 -95.7L-6.6 -96.3L-6.7 -98.0L-7.0 -98.7L-7.3 -98.9L-8.0 -98.9L-9.3 -98.5L-10.0 -98.0L-10.1 -97.7L-10.0 -96.7L-9.7 -95.7L-9.3 -95.4L-8.7 -95.3ZM112.3 -4.3L112.0 -4.3L111.6 -5.0L111.7 -5.3L112.3 -5.6L112.7 -5.5L113.0 -5.0L112.7 -4.4L112.3 -4.3ZM107.0 -0.3L106.0 -0.2L105.2 -0.3L104.6 -0.7L104.1 -1.3L103.9 -2.0L104.0 -3.0L104.4 -3.7L105.0 -4.2L106.0 -4.5L107.0 -4.3L107.7 -4.0L108.2 -3.3L108.4 -2.7L108.3 -1.7L107.7 -0.7L107.0 -0.3ZM-76.3 27.1L-77.0 27.0L-77.7 26.7L-78.3 25.7L-78.3 25.0L-78.0 24.4L-77.0 23.7L-76.3 23.7L-75.7 24.0L-75.0 25.0L-74.9 25.7L-75.2 26.3L-75.7 26.8L-76.3 27.1ZM-42.7 85.4L-43.7 85.4L-44.7 85.0L-49.3 82.3L-51.0 81.7L-58.3 79.9L-66.7 78.8L-72.7 77.1L-73.7 76.5L-74.3 75.9L-77.1 72.3L-77.9 71.0L-80.9 63.3L-82.6 53.7L-82.6 52.3L-82.3 51.7L-81.3 50.7L-78.7 48.8L-75.0 46.6L-74.1 45.7L-73.8 44.7L-73.6 39.0L-73.0 37.9L-70.5 35.3L-70.1 34.3L-70.1 33.3L-71.2 29.7L-71.1 29.0L-70.7 28.6L-69.7 28.5L-67.1 29.0L-66.0 29.5L-65.0 30.2L-60.7 33.9L-44.2 50.3L-42.9 51.3L-35.7 55.8L-31.8 59.0L-31.0 60.0L-30.9 60.7L-31.1 61.3L-33.0 63.8L-34.3 65.0L-37.3 66.8L-38.0 67.7L-38.0 69.0L-35.7 77.7L-35.7 78.7L-35.9 79.3L-39.4 84.3L-40.7 85.0L-42.7 85.4Z"/>
<line x1="-0.2" y1="-60" x2="-0.2" y2="-125" stroke="#fff" stroke-opacity="0.3" stroke-width="0.5"/>
</g>
<path d="M9.4 -67.9 L4.9 -66.6 L1.1 -67.0 L-0.6 -67.5 L-1.7 -65.2 L-2.9 -67.2 L-4.4 -65.2 L-5.7 -66.4 L-7.1 -64.2 L-8.7 -65.6 L-9.8 -63.2 L-11.7 -63.4 L-13.4 -62.1 L-12.6 -60.1 L-14.5 -58.0 L-16.5 -55.2 L-18.3 -52.0 L-19.5 -48.4 L-20.3 -44.7 L-21.3 -40.6 L-22.4 -37.0 L-23.8 -33.8 L-23.3 -30.7 L-24.8 -28.0 L-28.1 -25.9 L-32.6 -24.3 L-36.3 -22.5 L-39.0 -19.2 L-39.9 -17.1 L-41.1 -18.0 L-42.7 -20.8 L-44.8 -23.7 L-47.2 -26.6 L-50.1 -29.0 L-53.8 -30.6 L-57.9 -31.9 L-61.5 -32.9 L-64.4 -33.3 L-66.9 -32.3 L-69.2 -31.9 L-70.3 -33.9 L-71.0 -36.4 L-72.2 -38.8 L-73.8 -41.3 L-75.1 -43.7 L-75.4 -46.6 L-74.2 -47.8 L-74.6 -50.7 L-75.5 -52.7 L-76.7 -52.3 L-77.5 -49.9 L-77.9 -46.6 L-77.5 -43.7 L-78.7 -41.3 L-78.3 -39.2 L-76.7 -38.0 L-75.5 -36.0 L-74.2 -33.5 L-73.0 -31.5 L-73.8 -29.4 L-73.0 -27.8 L-71.4 -28.2 L-70.1 -29.8 L-68.5 -29.0 L-66.5 -27.4 L-65.2 -25.7 L-66.9 -24.5 L-67.9 -23.3 L-66.5 -22.2 L-63.6 -22.1 L-60.3 -23.3 L-57.9 -23.7 L-55.4 -22.9 L-53.8 -20.8 L-53.1 -18.0 L-53.8 -15.5 L-55.4 -15.1 L-56.6 -13.9 L-57.5 -11.8 L-56.9 -9.7 L-57.3 -8.6 L-57.7 -4.5 L-57.9 -2.4 L-58.5 1.4 L-59.9 4.8 L-61.3 8.2 L-60.3 11.6 L-57.9 10.3 L-57.2 7.5 L-54.9 6.8 L-55.4 10.3 L-51.7 9.6 L-50.4 12.3 L-51.7 15.0 L-49.0 16.4 L-50.4 19.8 L-47.2 20.5 L-48.3 23.9 L-46.3 24.6 L-48.0 28.0 L-47.2 30.7 L-43.5 30.0 L-39.4 29.0 L-37.4 29.4 L-37.7 32.8 L-36.7 36.2 L-33.3 37.5 L-29.2 38.2 L-25.8 39.9 L-23.8 37.5 L-21.0 36.9 L-19.0 38.9 L-16.2 40.7 L-15.2 36.9 L-16.2 33.5 L-16.9 30.0 L-17.2 26.2 L-13.5 26.6 L-11.5 23.9 L-10.1 19.8 L-8.7 15.7 L-7.1 13.4 L-7.5 13.2 L-4.2 14.5 L-0.1 19.4 L4.0 21.9 L8.0 25.1 L11.3 29.2 L13.0 34.1 L11.3 38.2 L13.0 41.5 L14.6 46.4 L14.3 52.1 L11.3 55.4 L9.7 58.7 L10.5 62.0 L13.8 63.6 L17.9 64.7 L20.3 62.8 L21.6 64.1 L24.4 65.7 L28.5 66.1 L31.8 64.4 L35.9 64.7 L39.2 62.8 L42.4 64.1 L44.9 62.0 L46.5 62.8 L49.8 62.0 L53.9 59.5 L58.0 56.2 L60.9 53.8 L61.3 50.5 L64.9 49.7 L67.0 46.4 L68.6 42.3 L71.1 37.4 L74.4 33.3 L77.3 29.2 L76.8 24.3 L78.4 20.2 L80.9 16.9 L81.7 10.4 L81.2 3.8 L80.9 -2.7 L81.3 7.2 L80.8 1.7 L79.9 -3.1 L78.5 -7.9 L76.5 -11.3 L73.8 -14.0 L70.3 -16.1 L67.3 -18.1 L66.2 -20.6 L63.5 -21.9 L65.2 -23.9 L69.0 -25.2 L71.4 -27.0 L70.3 -29.7 L69.2 -33.1 L68.3 -37.2 L67.2 -41.3 L68.0 -45.4 L66.9 -48.8 L64.6 -50.9 L61.5 -51.1 L59.4 -50.2 L57.4 -52.2 L54.0 -55.0 L50.6 -56.1 L46.5 -55.6 L43.1 -54.3 L41.7 -57.7 L40.7 -61.1 L39.6 -59.7 L36.9 -60.1 L32.1 -60.7 L26.7 -61.5 L22.6 -63.4 L18.5 -65.2 L14.4 -67.0 L10.3 -67.7 L5.5 -67.5 L2.1 -66.6 L-0.6 -64.5 Z M-62.8 -21.2 L-59.5 -22.1 L-57.0 -21.2 L-56.2 -19.2 L-57.9 -17.1 L-60.3 -15.9 L-62.4 -15.5 L-62.8 -18.8 L-62.8 -21.2 M-66.1 -18.4 L-65.2 -19.0 L-64.3 -18.3 L-64.6 -17.1 L-65.6 -16.8 L-66.1 -18.4 M-82.5 -51.9 L-81.9 -51.9 L-82.1 -46.2 L-82.7 -46.2 L-82.5 -51.9 M-74.0 -70.8 L-72.3 -71.6 M-11.7 33.0 L-10.4 31.7 L-9.8 33.9 L-11.2 36.6 L-12.0 34.8 L-11.7 33.0 M7.9 41.8 L9.9 41.2 M-76.1 -51.5 L-76.5 -47.4 L-76.3 -43.3 L-75.1 -40.1 L-73.4 -36.8 L-72.2 -33.5 L-71.6 -31.1 M-79.1 -40.9 L-77.5 -40.1 L-78.3 -38.3" fill="none" stroke="#000" stroke-width="1.1" stroke-linejoin="round"/>
<circle cx="0" cy="0" r="122.3" fill="none" stroke="#111" stroke-width="1"/>
</g>
<g transform="translate(526.6 237.7)">
<g clip-path="url(#clipc)">
<rect x="-130" y="-130" width="260" height="260" fill="#00008F"/>
<path fill="#0020B4" fill-rule="evenodd" d="M126.0 126.0L-126.0 126.0L-126.0 -126.0L126.0 -126.0L126.0 126.0ZM41.2 46.3L42.0 46.2L44.0 45.6L46.7 43.7L49.7 41.0L52.3 37.7L53.5 35.0L54.1 31.7L54.9 29.0L56.0 26.7L57.8 24.3L59.7 22.4L62.0 19.3L64.0 15.5L65.0 12.3L65.7 7.7L66.0 7.1L66.7 6.7L66.9 6.0L66.4 3.3L64.7 -1.2L62.9 -4.3L60.7 -7.5L58.3 -9.5L54.0 -12.1L52.3 -12.8L49.7 -13.5L44.3 -15.6L42.3 -16.9L40.9 -19.0L40.5 -20.7L40.5 -22.3L40.8 -23.7L41.7 -25.1L42.7 -26.1L44.3 -27.4L53.4 -33.7L54.9 -35.3L55.1 -36.0L55.1 -36.7L54.0 -38.0L51.7 -39.3L48.0 -40.7L43.7 -41.9L36.3 -44.4L27.3 -47.1L25.3 -47.9L14.7 -53.0L12.2 -54.0L10.7 -54.5L8.3 -54.9L6.0 -54.9L3.7 -54.3L0.3 -53.0L-3.0 -50.8L-3.5 -50.0L-4.2 -48.0L-3.1 -39.0L-2.3 -34.7L-1.0 -29.3L-0.9 -26.0L-0.6 -24.3L-0.6 -20.7L-0.3 -18.7L-0.5 -7.3L1.4 0.7L3.2 7.0L10.3 20.7L14.5 26.0L15.3 26.4L17.3 25.3L18.7 25.2L19.7 25.3L21.3 26.2L22.1 27.0L23.1 28.7L25.0 33.3L27.0 37.7L29.7 41.4L32.0 43.4L34.7 44.9L37.7 45.9L39.7 46.3L41.2 46.3Z"/>
<path fill="#0032DC" fill-rule="evenodd" d="M126.0 126.0L-126.0 126.0L-126.0 -126.0L126.0 -126.0L126.0 126.0ZM43.0 48.0L45.3 47.2L47.7 45.5L51.3 42.0L54.2 38.3L55.4 35.7L56.3 32.0L57.5 28.7L58.3 27.3L61.2 24.0L62.8 21.7L63.9 20.0L65.7 16.3L67.1 11.7L67.4 9.3L68.3 7.8L68.6 7.0L68.6 5.0L68.3 3.3L66.5 -1.7L65.4 -3.7L62.0 -8.3L59.3 -10.7L56.3 -12.7L53.7 -14.2L50.3 -15.5L45.7 -18.0L44.3 -19.0L43.5 -20.7L43.4 -21.7L43.5 -22.3L44.5 -24.0L48.2 -27.3L54.3 -32.1L55.7 -33.4L56.3 -34.3L56.7 -35.3L56.7 -36.3L56.5 -37.3L55.7 -38.6L54.7 -39.5L52.7 -40.7L49.7 -42.0L42.0 -44.0L32.0 -47.6L28.0 -48.7L25.3 -49.7L15.3 -54.4L11.7 -55.8L8.7 -56.3L5.7 -56.2L3.4 -55.7L-0.5 -54.3L-2.3 -53.2L-4.2 -51.3L-5.2 -49.0L-5.3 -47.7L-4.1 -38.7L-3.2 -34.7L-1.8 -29.3L-1.2 -24.3L-1.2 -20.7L-0.9 -18.7L-0.9 -14.7L-1.6 -7.0L-1.1 -2.3L-0.4 1.3L1.8 7.0L4.8 12.7L9.5 20.7L14.0 26.4L14.7 27.0L15.3 27.2L17.7 26.3L18.7 26.3L19.7 26.7L20.9 27.7L21.9 29.3L23.7 34.0L25.8 38.7L27.7 41.6L29.3 43.6L31.3 45.4L34.0 47.1L37.0 47.9L39.3 48.3L41.7 48.2L43.0 48.0Z"/>
<path fill="#1E50FF" fill-rule="evenodd" d="M126.0 126.0L-126.0 126.0L-126.0 -126.0L126.0 -126.0L126.0 126.0ZM42.9 50.3L46.3 49.4L49.0 47.5L53.0 43.3L56.1 39.7L57.7 36.3L58.8 32.3L59.7 30.0L60.3 29.0L63.7 25.0L65.6 21.3L67.7 17.0L69.0 13.3L69.6 10.3L70.6 7.7L70.6 4.7L70.3 2.7L68.3 -2.7L67.1 -5.0L63.4 -9.3L60.3 -12.1L57.3 -14.4L50.9 -18.3L48.1 -20.3L47.2 -21.3L47.6 -22.3L50.2 -25.3L56.0 -30.7L57.8 -32.7L58.3 -34.0L58.6 -35.3L58.5 -37.0L58.1 -38.3L57.3 -39.7L56.3 -40.7L53.5 -42.3L49.7 -44.2L48.7 -44.6L44.3 -45.2L40.0 -46.4L33.3 -49.3L29.3 -50.4L26.0 -51.5L15.7 -56.2L12.3 -57.5L9.3 -58.0L7.0 -57.9L3.3 -57.2L-2.0 -55.7L-3.3 -54.8L-5.4 -52.3L-6.3 -49.7L-6.5 -48.3L-5.2 -38.3L-2.5 -29.3L-1.7 -24.3L-1.4 -14.7L-1.7 -12.7L-3.0 -6.3L-3.1 -2.3L-2.8 2.0L0.5 8.0L4.2 14.0L9.2 21.3L13.5 26.7L14.3 27.5L15.3 28.0L16.3 28.1L18.3 27.8L19.0 28.0L19.7 28.7L20.5 30.0L22.1 34.7L24.7 40.3L26.7 43.6L29.7 47.3L32.0 49.3L32.7 49.7L39.0 50.5L42.9 50.3Z"/>
<path fill="#4678FF" fill-rule="evenodd" d="M126.0 126.0L-126.0 126.0L-126.0 -126.0L126.0 -126.0L126.0 126.0ZM42.5 52.7L46.7 51.9L49.2 50.3L51.3 48.6L54.0 45.4L58.1 41.0L60.0 37.0L61.9 31.3L62.6 30.3L65.7 26.7L66.5 25.3L71.3 13.7L72.5 9.0L72.7 5.0L72.4 2.7L70.2 -3.7L69.0 -6.0L64.6 -10.7L60.0 -14.7L54.6 -19.0L52.5 -21.0L51.8 -22.0L52.2 -23.0L53.9 -25.3L59.3 -31.0L60.0 -32.0L60.4 -34.0L60.4 -35.7L60.1 -38.0L59.4 -40.0L58.7 -41.3L58.0 -41.9L50.0 -46.4L48.7 -46.7L44.7 -46.9L41.0 -47.8L38.7 -48.8L34.7 -51.1L29.7 -52.3L26.0 -53.5L19.7 -56.2L16.3 -57.8L12.7 -59.2L9.7 -59.6L7.0 -59.6L-2.7 -57.5L-4.7 -56.4L-6.0 -54.3L-7.0 -52.3L-7.8 -48.7L-7.7 -46.7L-6.2 -38.0L-3.1 -29.0L-2.1 -24.0L-1.9 -18.3L-2.0 -14.3L-4.8 -5.7L-5.4 1.3L-5.3 3.0L-0.2 9.7L3.4 15.0L13.3 27.3L15.0 28.8L16.3 29.4L18.3 29.9L18.9 30.3L19.7 32.1L20.5 35.3L24.3 43.7L27.8 49.0L30.0 51.7L31.0 52.3L33.0 52.7L40.7 52.9L42.5 52.7Z"/>
<path fill="#82AAFF" fill-rule="evenodd" d="M126.0 126.0L-126.0 126.0L-126.0 -126.0L126.0 -126.0L126.0 126.0ZM35.3 55.3L37.3 55.1L41.3 55.2L47.3 54.2L49.7 52.9L53.4 50.0L55.7 46.7L57.3 44.9L59.6 43.0L60.1 42.3L62.4 37.3L64.1 32.7L67.7 28.3L68.8 26.7L70.2 21.7L73.7 13.7L74.7 9.0L74.6 3.3L74.3 1.7L71.8 -5.3L70.7 -7.3L69.7 -8.4L64.1 -13.3L61.3 -16.0L58.2 -18.7L56.8 -20.3L55.7 -22.3L55.8 -23.3L57.3 -25.7L59.0 -27.7L61.7 -30.3L62.2 -31.0L62.4 -33.3L62.2 -36.0L60.7 -42.3L60.0 -43.3L56.7 -44.7L52.3 -47.6L50.7 -48.5L49.0 -48.8L44.7 -48.7L41.3 -49.4L39.5 -50.3L35.7 -53.0L30.3 -54.2L26.0 -55.5L21.3 -57.4L17.0 -59.4L13.0 -61.0L10.0 -61.3L7.0 -61.3L2.7 -60.2L-3.3 -59.3L-5.9 -58.0L-7.0 -56.4L-8.4 -52.7L-9.1 -49.0L-8.9 -46.7L-7.3 -37.7L-3.9 -29.0L-2.8 -25.7L-2.6 -24.0L-2.4 -18.3L-2.4 -15.3L-2.7 -14.0L-6.2 -7.0L-6.8 -5.0L-8.0 1.7L-7.7 4.8L-7.1 5.7L-5.0 7.1L-1.6 10.3L2.6 16.0L9.7 23.4L14.0 29.0L18.0 32.3L18.3 33.3L18.8 35.7L22.8 45.0L28.1 54.7L29.0 55.1L33.3 55.6L35.3 55.3Z"/>
<path fill="#B4CDFF" fill-rule="evenodd" d="M126.0 126.0L-126.0 126.0L-126.0 -126.0L126.0 -126.0L126.0 126.0ZM34.7 58.3L37.7 57.5L41.7 57.6L44.0 57.0L47.0 56.8L48.0 56.6L51.0 54.9L55.4 51.3L56.9 48.7L57.7 47.7L59.0 46.4L61.1 45.0L61.7 44.3L64.6 38.3L66.3 34.0L71.0 28.0L71.4 27.0L72.3 22.0L75.8 14.7L76.8 9.3L76.6 2.7L76.2 1.0L73.8 -6.0L72.7 -8.0L71.7 -9.4L65.5 -14.3L62.7 -17.4L60.3 -19.3L59.4 -20.7L58.7 -22.3L58.9 -23.7L60.1 -25.7L62.3 -28.0L64.2 -29.3L64.6 -30.0L64.2 -35.3L63.1 -40.3L62.5 -44.7L62.0 -45.4L59.0 -45.9L57.3 -46.4L53.7 -49.2L51.3 -50.5L49.7 -51.0L47.3 -50.9L44.7 -50.5L42.0 -50.9L41.0 -51.4L39.7 -52.3L37.7 -54.5L37.0 -55.0L30.7 -56.2L25.7 -57.5L22.0 -59.0L17.7 -61.1L13.3 -62.7L6.7 -63.0L2.3 -61.7L-3.7 -61.3L-6.7 -59.9L-7.7 -59.0L-8.2 -58.3L-9.0 -56.3L-9.8 -53.0L-10.4 -49.0L-10.1 -46.3L-8.3 -37.0L-4.5 -28.7L-3.3 -25.3L-3.1 -24.0L-3.0 -18.0L-3.0 -15.3L-3.2 -14.3L-7.8 -7.3L-8.5 -5.7L-9.8 -1.3L-10.5 1.7L-10.1 6.0L-8.7 8.2L-5.3 9.5L-3.3 10.9L-2.0 12.0L1.9 17.0L9.3 23.9L16.1 33.0L16.6 34.0L17.1 36.0L18.8 39.7L21.0 46.0L24.0 53.0L24.7 56.7L25.0 57.3L26.0 58.2L27.0 58.6L30.3 58.1L34.7 58.3ZM-34.6 4.7L-33.7 4.1L-33.0 3.3L-32.6 2.0L-32.6 1.3L-33.2 0.0L-34.0 -0.7L-35.0 -1.1L-36.3 -1.0L-37.3 -0.5L-38.0 0.3L-38.5 1.3L-38.4 2.7L-37.8 3.7L-36.7 4.6L-35.7 4.8L-34.6 4.7Z"/>
<path fill="#D7E8FF" fill-rule="evenodd" d="M126.0 126.0L-126.0 126.0L-126.0 -126.0L126.0 -126.0L126.0 126.0ZM27.4 62.0L31.0 61.0L35.0 61.2L38.3 59.8L39.7 59.7L42.0 60.2L44.3 59.2L47.3 59.3L49.0 58.8L52.2 57.0L55.7 54.3L57.8 52.3L58.7 50.0L59.4 49.0L60.3 48.1L62.6 47.0L63.3 46.3L64.1 45.0L68.3 35.7L71.3 32.0L73.7 28.7L73.9 28.0L74.4 22.7L76.0 19.0L77.9 15.7L78.8 11.0L78.9 8.7L78.7 6.3L78.6 2.3L78.2 0.0L77.5 -1.3L75.8 -7.0L73.7 -10.3L72.3 -11.7L66.6 -15.7L65.0 -17.3L64.2 -18.7L62.3 -20.1L61.4 -21.3L61.2 -23.0L62.1 -24.7L64.0 -26.5L66.9 -28.0L67.3 -28.7L66.1 -35.7L64.9 -40.3L64.9 -45.3L64.3 -46.8L63.7 -47.7L62.7 -48.0L60.0 -47.8L58.3 -48.0L53.3 -51.9L50.3 -53.1L49.3 -53.2L47.3 -53.0L44.3 -52.3L42.7 -52.5L42.0 -52.8L40.9 -53.7L39.2 -56.3L38.3 -56.9L31.0 -58.1L25.7 -59.4L22.7 -60.6L18.3 -62.7L14.0 -64.4L6.0 -64.6L5.3 -64.5L3.7 -63.7L2.0 -63.2L-0.7 -63.4L-3.0 -63.3L-4.7 -63.0L-7.3 -61.8L-8.7 -60.8L-9.7 -60.2L-10.0 -59.8L-11.2 -53.0L-11.7 -48.3L-9.4 -36.7L-5.1 -28.0L-3.8 -25.0L-3.7 -23.7L-3.6 -15.3L-4.3 -13.9L-6.0 -12.0L-9.2 -8.0L-11.6 -2.7L-12.9 0.7L-12.7 6.3L-11.9 8.0L-9.7 11.3L-9.0 11.5L-7.7 11.1L-6.3 11.3L-4.7 12.0L-3.3 12.8L1.0 17.8L8.7 24.1L12.2 28.7L14.8 33.7L15.0 35.7L17.1 40.0L19.0 46.3L21.3 53.0L21.4 54.3L21.1 58.0L21.3 58.7L25.0 61.4L26.0 61.8L27.4 62.0ZM-27.3 32.3L-26.8 31.7L-25.8 29.7L-25.6 29.0L-25.7 28.3L-26.4 27.7L-32.3 24.7L-33.2 24.0L-33.8 22.7L-35.1 17.3L-35.2 16.3L-35.0 15.7L-31.3 7.7L-29.4 -2.0L-29.8 -3.3L-32.9 -9.3L-33.6 -10.0L-34.3 -10.0L-41.0 -6.8L-41.7 -6.1L-41.9 -5.3L-42.8 3.7L-42.5 5.0L-39.9 12.0L-40.3 22.3L-37.9 29.3L-37.2 30.3L-35.2 31.0L-29.3 32.4L-28.0 32.6L-27.3 32.3Z"/>
<path fill="#FFEBD7" fill-rule="evenodd" d="M126.0 126.0L-126.0 126.0L-126.0 -126.0L126.0 -126.0L126.0 126.0ZM28.9 66.0L32.0 64.6L34.3 64.8L36.0 64.7L39.0 63.1L39.7 63.1L42.3 64.0L44.7 62.6L45.3 62.5L46.3 62.8L47.3 62.8L49.1 62.3L50.8 61.7L53.7 60.0L57.1 57.3L60.8 53.7L61.8 51.0L63.5 50.0L67.1 46.3L71.3 37.3L74.3 33.7L77.2 29.7L77.5 28.7L77.2 26.3L77.3 23.7L78.6 20.7L81.1 16.7L81.4 15.0L81.8 11.0L81.8 7.3L81.5 5.3L81.5 1.3L81.1 -1.0L80.2 -2.7L78.7 -8.0L77.1 -10.7L73.3 -14.5L68.0 -17.9L64.5 -22.0L64.5 -22.7L65.0 -23.4L67.0 -24.5L68.3 -25.9L69.8 -27.0L70.7 -28.3L70.8 -29.0L69.6 -32.7L67.6 -41.0L67.6 -42.0L68.1 -45.0L68.0 -46.1L67.3 -47.5L64.0 -50.8L63.3 -51.1L62.3 -51.2L59.3 -50.8L54.7 -54.7L53.3 -55.4L51.0 -56.1L48.3 -56.1L46.0 -55.7L44.0 -55.0L43.3 -55.1L41.2 -57.3L40.3 -58.7L38.3 -60.0L32.0 -60.9L26.7 -62.0L23.7 -63.1L19.1 -65.3L15.0 -67.0L13.7 -67.4L9.0 -68.1L5.3 -67.8L4.7 -67.5L3.0 -66.2L1.7 -65.8L1.0 -66.0L0.2 -66.7L-0.3 -66.8L-1.7 -66.3L-3.0 -66.8L-4.3 -66.1L-5.7 -66.0L-7.0 -65.1L-8.0 -65.0L-8.5 -64.7L-11.3 -62.1L-16.7 -55.3L-18.4 -52.3L-19.7 -48.3L-21.6 -40.3L-23.8 -34.0L-23.7 -30.7L-25.0 -28.3L-28.0 -26.3L-32.7 -24.6L-35.3 -23.0L-39.0 -19.4L-40.0 -17.8L-40.3 -17.7L-41.0 -18.2L-43.3 -21.7L-44.0 -22.4L-44.2 -22.3L-43.6 -10.3L-44.5 3.7L-44.2 5.0L-41.3 13.7L-41.1 16.3L-41.4 21.7L-41.3 23.0L-39.5 28.0L-39.2 29.3L-38.0 31.3L-37.7 31.6L-36.3 31.8L-31.7 33.0L-27.9 34.3L-23.0 36.5L-19.7 37.2L-18.7 36.8L-18.0 36.3L-16.4 34.7L-16.0 34.0L-16.8 29.3L-16.8 27.7L-16.5 27.0L-14.7 26.5L-11.2 23.0L-10.6 22.0L-8.7 16.3L-7.7 14.6L-7.0 14.1L-6.3 14.1L-4.3 15.0L0.3 19.8L4.0 22.3L8.0 25.3L10.9 29.3L12.4 33.0L12.5 34.3L11.3 38.3L12.7 41.7L14.3 46.3L14.2 51.3L13.8 52.3L12.0 54.3L10.7 56.3L9.7 58.5L9.6 59.0L9.9 59.7L13.4 63.3L14.7 64.1L17.7 64.7L20.3 63.3L21.0 63.6L23.0 65.0L24.3 65.7L26.7 66.1L28.9 66.0ZM0.7 37.0L5.3 36.5L7.3 36.5L8.3 36.2L9.0 35.7L10.0 34.3L10.5 33.0L10.4 30.7L9.8 29.3L9.0 28.8L8.3 28.7L5.0 29.4L-4.3 30.2L-6.7 30.2L-11.0 29.7L-12.3 30.0L-13.4 31.0L-13.7 32.3L-13.2 34.0L-12.0 35.7L-10.7 36.6L-6.3 37.2L0.7 37.0Z"/>
<path fill="#FFCDB4" fill-rule="evenodd" d="M126.0 126.0L-126.0 126.0L-126.0 -126.0L126.0 -126.0L126.0 126.0ZM29.4 70.0L32.7 68.9L36.3 68.8L39.7 67.7L41.7 67.8L43.3 67.8L45.7 66.9L50.3 66.3L53.3 65.0L57.5 62.3L62.2 58.3L63.8 56.7L65.3 54.1L67.3 52.8L69.1 51.0L70.3 49.0L74.7 40.0L79.0 34.3L80.3 32.3L81.2 30.3L81.5 28.3L81.2 25.7L81.3 25.0L82.3 22.7L84.0 20.0L84.8 18.3L85.8 13.3L85.8 7.0L85.5 4.7L85.4 0.3L85.0 -2.4L83.9 -5.0L82.9 -8.3L80.7 -12.7L79.0 -14.9L77.2 -16.7L72.0 -20.1L71.1 -21.0L71.2 -21.7L73.0 -23.1L74.6 -25.0L75.1 -26.3L75.2 -28.3L75.0 -29.4L73.6 -33.7L71.9 -40.7L71.8 -42.0L72.2 -44.7L72.0 -46.7L71.3 -49.0L69.7 -51.9L67.9 -53.7L66.9 -54.3L64.7 -55.1L60.5 -55.3L57.0 -58.1L54.3 -59.4L51.3 -60.1L45.9 -60.0L45.5 -60.3L44.8 -61.7L44.0 -62.6L43.0 -63.4L42.0 -63.9L35.3 -64.6L27.7 -66.0L25.0 -67.0L19.0 -69.8L15.7 -71.0L12.3 -71.8L8.7 -72.2L4.7 -71.8L2.3 -71.3L-0.3 -71.5L-4.0 -70.7L-10.6 -68.7L-12.3 -67.4L-14.3 -66.4L-16.2 -64.7L-16.9 -63.3L-17.4 -61.3L-20.3 -57.3L-22.7 -52.5L-23.7 -49.3L-25.6 -41.3L-27.7 -35.0L-27.9 -32.0L-28.1 -31.3L-29.7 -30.2L-33.7 -28.5L-35.3 -28.1L-37.0 -28.0L-39.0 -28.2L-40.0 -28.5L-48.3 -33.1L-52.0 -34.7L-58.0 -36.6L-58.7 -37.0L-59.4 -38.3L-60.5 -43.0L-63.3 -50.0L-64.3 -51.5L-66.0 -52.9L-67.7 -53.7L-74.7 -56.1L-77.3 -56.0L-78.3 -55.6L-79.2 -55.0L-80.6 -53.3L-81.7 -50.7L-82.2 -47.3L-82.1 -44.7L-82.8 -42.0L-82.8 -40.3L-82.4 -38.7L-81.7 -37.1L-79.8 -34.7L-78.0 -31.6L-77.7 -28.3L-77.0 -26.7L-76.0 -25.5L-75.0 -24.7L-74.0 -24.3L-72.0 -24.0L-71.6 -23.7L-71.1 -22.0L-70.3 -20.5L-69.2 -19.3L-68.0 -18.5L-65.7 -17.9L-64.0 -17.8L-62.7 -18.0L-59.0 -19.0L-58.7 -19.0L-58.2 -18.7L-58.3 -18.0L-60.6 -15.3L-61.4 -13.3L-61.5 -9.0L-62.2 -2.7L-63.0 0.7L-65.0 6.3L-65.2 7.7L-65.1 10.3L-64.7 11.6L-64.0 12.8L-62.9 14.0L-61.7 14.8L-60.7 15.1L-59.0 15.2L-57.7 14.9L-56.3 14.4L-56.0 14.3L-55.7 14.6L-54.3 18.0L-53.8 20.7L-52.2 23.3L-51.7 25.7L-51.8 30.0L-51.3 31.3L-50.5 32.7L-49.3 33.7L-47.3 34.4L-42.0 34.4L-41.7 34.8L-40.7 37.3L-39.7 38.9L-38.3 40.1L-36.0 41.3L-30.7 42.6L-27.0 43.8L-25.0 43.7L-22.3 42.4L-21.7 42.4L-19.0 43.8L-16.0 44.5L-11.3 46.8L-7.0 48.1L-4.0 49.6L0.2 52.3L3.6 55.7L5.5 58.7L6.0 61.7L6.9 63.7L9.2 66.0L11.7 67.3L15.3 68.5L20.3 68.3L23.0 69.6L25.3 70.1L28.0 70.2L29.4 70.0ZM-4.7 29.3L-7.0 29.2L-8.7 28.7L-9.1 28.3L-9.1 28.0L-7.2 24.7L-5.9 21.0L-5.3 20.3L-4.7 20.6L-1.8 23.3L3.4 27.0L4.2 27.7L4.2 28.0L3.7 28.3L1.0 29.0L-4.7 29.3ZM6.3 38.7L5.0 38.4L4.6 38.0L4.9 37.7L5.3 37.6L6.2 37.7L7.0 38.0L7.0 38.4L6.3 38.7Z"/>
<path fill="#FFAA87" fill-rule="evenodd" d="M10.3 107.7L7.0 107.3L-23.0 101.9L-31.0 100.2L-32.8 99.0L-46.8 85.0L-48.3 83.9L-56.0 81.5L-58.3 81.0L-70.7 81.8L-72.7 81.7L-83.0 78.4L-84.3 77.9L-85.6 77.0L-94.2 68.3L-94.9 67.3L-95.3 66.3L-96.9 58.3L-97.4 57.0L-104.3 46.7L-104.9 45.3L-104.9 44.7L-104.6 43.7L-100.1 36.0L-99.8 35.0L-99.9 34.3L-100.7 33.0L-113.1 18.7L-113.5 17.3L-114.8 6.3L-116.7 0.3L-117.5 -0.3L-118.3 -0.7L-123.0 -1.5L-123.7 -2.0L-124.2 -2.7L-124.3 -6.0L-124.0 -7.3L-123.0 -8.1L-119.7 -8.7L-119.1 -9.3L-119.7 -13.0L-119.6 -13.7L-119.3 -14.0L-118.0 -14.4L-109.3 -15.1L-108.7 -15.4L-108.3 -16.3L-108.9 -18.7L-109.3 -19.2L-110.0 -19.5L-121.0 -20.4L-121.8 -20.3L-122.4 -20.0L-122.7 -19.3L-122.9 -17.7L-123.3 -16.8L-124.3 -16.5L-126.0 -16.5L-126.0 -45.2L-117.3 -45.2L-106.3 -43.1L-93.0 -39.9L-88.7 -38.4L-87.7 -37.7L-86.0 -34.1L-84.1 -31.7L-83.3 -30.3L-82.7 -26.7L-81.3 -23.7L-80.2 -22.3L-78.8 -21.0L-75.7 -19.1L-73.9 -16.3L-73.0 -10.7L-68.8 0.7L-68.9 1.3L-70.2 5.7L-70.5 10.0L-71.1 12.0L-71.0 13.6L-70.5 16.7L-69.6 19.3L-66.3 25.6L-65.0 27.3L-58.0 34.4L-50.0 40.3L-40.0 45.5L-36.3 46.7L-32.0 47.7L-29.3 48.7L-27.7 49.0L-25.7 49.0L-22.0 48.4L-18.3 49.3L-14.3 49.3L-13.3 49.6L-8.5 52.0L-6.0 53.6L-0.3 59.3L0.5 60.7L1.0 63.3L2.2 66.0L3.4 67.7L5.8 70.0L7.3 71.0L10.1 72.3L13.0 73.3L16.0 74.1L23.0 76.8L24.0 77.0L24.7 77.0L27.3 75.5L30.3 75.2L33.7 74.1L37.0 73.9L40.3 73.1L44.0 72.9L47.0 72.1L52.0 71.2L53.7 70.6L56.2 69.3L60.3 66.7L62.5 65.0L66.7 61.3L69.2 58.0L71.3 56.3L73.3 54.1L75.0 51.3L79.2 42.7L83.0 37.7L85.3 34.0L86.2 31.7L86.6 30.0L86.7 25.7L87.2 24.7L88.3 23.4L88.9 22.3L90.1 19.3L90.8 16.3L91.1 13.3L91.0 6.3L90.7 4.0L90.7 0.0L90.1 -3.7L87.3 -11.3L85.7 -14.5L83.3 -18.1L82.5 -20.0L80.9 -25.7L80.1 -30.7L78.6 -35.3L77.2 -41.3L77.4 -45.7L77.0 -48.3L76.0 -51.3L74.0 -54.8L71.2 -57.7L69.0 -59.1L66.0 -60.2L62.7 -60.5L59.5 -62.7L57.0 -64.0L53.3 -65.1L49.0 -65.8L47.9 -66.3L45.5 -68.0L43.7 -68.9L29.7 -71.4L26.3 -72.4L17.3 -76.0L13.3 -76.9L9.0 -77.4L5.3 -77.1L0.3 -77.1L-1.7 -76.8L-5.7 -75.8L-11.7 -73.9L-13.3 -73.1L-17.4 -70.7L-20.0 -68.2L-21.3 -66.3L-22.4 -63.3L-24.3 -60.7L-25.9 -58.0L-27.3 -57.0L-32.3 -55.2L-34.0 -54.9L-43.7 -55.9L-64.0 -64.0L-70.8 -67.3L-72.3 -68.3L-73.8 -70.7L-77.0 -77.1L-77.5 -78.7L-77.3 -80.3L-74.9 -90.0L-74.4 -91.0L-73.5 -92.0L-64.0 -99.4L-48.7 -109.1L-36.7 -116.1L-36.0 -117.0L-35.8 -118.0L-35.8 -126.0L126.0 -126.0L126.0 22.5L124.3 22.6L123.7 22.8L123.2 23.3L122.9 24.7L122.9 61.0L122.8 62.3L122.5 63.0L121.9 63.7L120.7 64.3L95.6 73.0L93.7 73.5L89.0 73.6L87.7 73.8L78.7 77.5L77.0 78.8L69.3 88.0L62.3 94.3L60.7 95.3L47.3 98.1L32.7 100.3L26.0 102.8L20.3 104.5L11.9 105.3L11.0 105.7L10.8 106.0L11.0 107.3L10.3 107.7ZM-65.0 21.7L-65.7 21.2L-66.3 20.0L-66.9 18.3L-66.7 17.9L-65.3 18.8L-64.8 19.3L-64.6 21.0L-65.0 21.7ZM61.6 92.0L62.2 91.3L62.2 89.7L61.6 85.7L61.3 85.0L60.7 84.5L59.3 84.3L48.7 83.6L47.7 83.7L47.0 84.3L46.9 85.3L47.6 90.0L47.8 90.7L48.3 91.3L49.0 91.6L50.7 91.7L60.3 92.1L61.6 92.0Z"/>
<path fill="#FF7841" fill-rule="evenodd" d="M96.7 58.0L92.7 58.1L82.3 57.2L81.4 56.7L80.7 56.0L79.4 54.3L78.9 53.3L78.9 52.3L79.4 51.0L84.0 41.9L87.8 36.0L89.2 32.7L89.8 30.0L90.0 26.3L92.6 21.3L93.6 17.3L94.2 13.3L94.2 6.0L93.9 3.7L93.8 0.0L93.3 -3.7L90.7 -11.3L89.4 -14.3L88.3 -16.3L85.9 -19.7L83.7 -22.1L83.2 -23.0L83.5 -26.7L83.4 -30.0L83.1 -31.7L81.6 -36.3L80.4 -41.3L80.5 -46.7L79.5 -51.0L78.0 -54.3L76.8 -56.3L75.7 -57.7L73.0 -60.3L71.3 -61.5L69.3 -62.4L66.7 -63.2L63.7 -63.7L61.0 -65.5L57.7 -67.1L53.7 -68.2L50.0 -68.7L47.0 -70.8L44.3 -72.0L42.3 -72.4L39.0 -72.6L34.3 -73.2L30.3 -74.0L28.3 -74.7L22.0 -77.6L18.3 -79.0L13.3 -80.1L10.3 -80.5L8.0 -80.5L2.0 -79.8L-0.3 -79.9L-2.3 -79.6L-9.3 -77.9L-13.0 -76.8L-14.7 -76.0L-19.3 -73.1L-22.3 -70.3L-24.0 -68.0L-25.4 -64.7L-28.3 -60.3L-28.9 -59.7L-29.9 -59.0L-31.4 -58.3L-34.2 -57.3L-35.3 -57.2L-36.7 -57.7L-44.0 -63.2L-53.4 -69.3L-55.0 -70.1L-63.0 -73.3L-64.3 -74.3L-64.9 -75.7L-66.0 -80.0L-66.1 -81.0L-65.7 -81.9L-64.3 -82.8L-58.3 -85.7L-49.3 -87.9L-48.0 -88.6L-47.1 -89.7L-44.2 -94.7L-39.7 -103.3L-32.0 -111.3L-30.3 -115.7L-29.8 -117.7L-29.6 -126.0L3.7 -126.0L3.7 -122.7L3.9 -122.0L4.3 -121.3L10.3 -117.7L18.3 -113.4L21.0 -112.3L22.0 -112.2L23.0 -112.5L24.4 -113.3L26.0 -114.0L27.7 -114.2L32.3 -113.1L37.0 -110.9L38.3 -110.7L43.0 -111.9L44.7 -112.6L46.1 -114.0L48.0 -116.3L48.6 -117.3L48.7 -118.0L48.4 -118.7L44.1 -125.0L43.7 -126.0L126.0 -126.0L126.0 -2.1L122.3 -2.1L121.7 -1.9L121.0 -1.5L120.5 -0.3L119.6 3.7L119.3 4.3L118.7 4.8L117.3 5.1L110.7 5.2L109.3 5.5L108.7 6.0L108.5 6.7L108.5 7.3L110.3 16.3L110.3 17.0L110.0 17.5L108.7 17.4L101.7 14.4L100.7 14.3L100.3 14.7L100.1 15.3L100.1 16.3L101.7 35.3L102.1 38.3L103.1 39.7L111.0 45.7L111.3 46.3L111.3 47.0L110.8 50.0L110.3 51.3L107.7 55.3L106.5 56.7L105.7 57.1L104.7 57.3L96.7 58.0ZM94.4 -80.7L94.9 -81.3L94.6 -82.3L85.5 -99.3L84.7 -100.5L84.0 -100.8L83.0 -100.7L75.3 -97.4L74.1 -96.7L73.9 -96.0L74.1 -95.3L77.0 -92.0L84.3 -85.7L89.0 -81.2L89.7 -80.7L90.7 -80.5L93.3 -80.5L94.4 -80.7ZM-103.7 -25.6L-105.3 -25.4L-106.7 -25.9L-120.3 -32.9L-121.1 -33.7L-121.0 -34.3L-117.5 -38.7L-116.2 -39.7L-115.0 -39.9L-108.7 -39.9L-107.0 -39.6L-105.7 -38.5L-101.2 -34.0L-100.5 -32.7L-99.2 -28.7L-99.2 -27.7L-99.7 -27.0L-103.7 -25.6ZM-80.0 17.0L-81.3 16.4L-84.9 14.0L-96.3 2.9L-98.1 1.7L-105.0 -1.8L-106.3 -1.8L-112.3 -0.7L-113.7 -0.6L-115.0 -0.8L-118.3 -1.8L-122.3 -2.5L-123.0 -3.0L-123.2 -3.7L-123.2 -5.7L-123.0 -6.6L-122.3 -7.1L-119.3 -7.5L-117.0 -8.2L-113.0 -8.6L-101.3 -10.4L-99.7 -10.3L-92.0 -8.8L-90.0 -8.1L-83.9 -4.3L-82.7 -3.3L-82.0 -2.0L-80.3 4.0L-76.7 10.3L-76.7 11.7L-78.3 15.3L-79.2 16.7L-80.0 17.0ZM-31.3 79.7L-32.7 79.9L-38.0 79.9L-39.7 79.5L-40.5 78.7L-44.3 73.1L-48.7 68.9L-49.7 68.3L-50.3 68.4L-51.0 69.0L-55.3 74.1L-56.3 74.6L-57.3 74.7L-63.0 73.8L-64.4 73.3L-72.8 67.3L-78.3 63.9L-79.7 63.8L-86.3 65.2L-87.0 65.3L-87.7 65.0L-88.2 63.7L-88.9 57.3L-88.7 56.0L-87.4 50.7L-87.4 49.7L-87.7 49.1L-88.2 48.7L-93.0 46.5L-93.5 45.7L-93.2 44.7L-89.1 38.7L-87.3 33.3L-87.3 32.7L-87.6 32.0L-91.2 27.3L-91.4 26.7L-91.3 26.3L-91.0 26.0L-90.0 25.6L-82.0 23.3L-80.4 23.7L-76.0 25.9L-75.4 26.7L-75.2 27.3L-74.3 35.2L-73.8 36.7L-66.2 42.7L-65.4 44.0L-62.4 50.0L-61.7 50.9L-55.7 54.9L-49.0 57.3L-47.7 57.6L-37.3 55.8L-27.7 54.9L-25.3 55.6L-18.7 58.2L-17.7 58.7L-17.3 59.3L-17.3 60.3L-18.9 67.0L-22.8 75.0L-23.3 75.7L-24.3 76.4L-31.3 79.7ZM80.0 69.4L76.0 68.8L74.7 68.3L74.0 67.6L73.0 65.7L72.8 65.0L72.9 64.3L73.7 63.7L76.7 62.5L77.7 62.4L78.7 62.9L81.8 65.3L82.4 66.3L82.4 67.0L81.6 68.3L81.0 69.0L80.0 69.4ZM8.3 100.3L7.3 100.1L6.7 99.5L1.9 92.7L-3.2 82.7L-3.7 81.0L-5.8 71.0L-5.8 70.0L-5.3 69.4L-4.3 69.5L-2.3 70.7L-1.3 71.5L0.0 73.1L6.2 85.3L8.8 92.0L10.4 97.7L10.5 99.0L10.2 99.7L9.7 100.1L8.3 100.3ZM-20.0 91.4L-21.0 91.6L-21.5 91.3L-21.9 90.7L-23.3 86.3L-23.1 84.7L-20.1 77.3L-19.3 75.9L-18.3 75.1L-16.0 74.0L-15.0 73.6L-14.3 73.7L-14.0 74.0L-13.7 74.7L-13.1 78.3L-13.0 79.7L-13.3 81.0L-15.9 88.3L-17.0 89.5L-20.0 91.4ZM25.0 101.7L24.3 101.6L23.7 101.0L20.5 94.7L20.2 93.0L20.2 87.0L20.7 85.9L21.7 85.2L26.3 83.9L27.3 83.8L28.0 84.3L28.3 85.3L29.9 99.0L29.8 99.7L29.0 100.3L25.0 101.7Z"/>
<path fill="#FF5019" fill-rule="evenodd" d="M80.3 -61.0L79.7 -60.7L78.7 -61.0L72.7 -64.9L70.7 -65.8L66.7 -67.0L64.0 -68.8L60.7 -70.5L54.7 -72.4L53.7 -73.2L51.7 -75.9L50.7 -76.6L46.3 -77.6L41.3 -77.3L39.7 -77.5L33.7 -79.2L27.7 -81.6L26.3 -82.5L23.3 -85.4L22.4 -86.7L20.7 -90.1L20.3 -90.5L19.7 -90.8L19.0 -90.7L18.0 -90.1L16.2 -88.0L14.0 -86.6L8.8 -84.7L4.7 -83.9L2.3 -84.0L-0.2 -84.7L-1.3 -85.3L-5.0 -88.2L-6.0 -88.7L-9.0 -89.2L-10.7 -89.2L-11.9 -88.3L-14.6 -85.0L-18.0 -79.3L-20.0 -77.5L-20.7 -77.4L-21.0 -77.5L-21.7 -78.3L-22.4 -79.7L-24.0 -82.7L-24.4 -84.0L-25.7 -91.7L-27.3 -99.0L-29.6 -107.7L-29.7 -111.0L-29.5 -113.0L-28.7 -114.0L-26.3 -115.3L-24.3 -115.3L-22.3 -114.7L-21.6 -113.7L-20.3 -109.0L-18.0 -103.3L-17.5 -102.7L-16.7 -102.1L-13.7 -101.1L-13.0 -101.1L-12.3 -101.4L-10.3 -104.7L-9.3 -105.5L-4.3 -107.2L-2.3 -107.5L3.7 -107.0L5.4 -106.7L13.3 -101.9L19.0 -98.7L19.7 -98.8L25.7 -104.3L26.3 -104.8L27.0 -105.0L28.0 -104.7L30.3 -102.7L31.5 -102.0L38.0 -101.1L43.3 -99.1L44.7 -98.8L46.0 -99.1L51.0 -101.0L58.0 -104.6L59.7 -104.5L62.3 -103.7L63.0 -103.0L63.1 -101.7L60.4 -87.7L60.3 -86.7L60.4 -86.0L61.3 -84.8L64.0 -82.3L69.6 -80.0L70.7 -79.3L71.4 -78.3L73.0 -75.4L73.8 -74.7L75.3 -74.5L82.0 -75.3L82.7 -75.3L83.3 -74.9L83.6 -74.3L83.5 -73.7L82.6 -69.0L81.0 -62.4L80.3 -61.0ZM106.0 6.0L105.0 6.0L104.3 5.7L100.9 2.3L99.9 1.0L97.0 -6.9L93.7 -17.3L87.2 -30.0L86.5 -33.0L85.0 -37.8L84.3 -40.6L84.1 -42.3L84.3 -48.8L84.7 -52.0L86.1 -56.3L86.4 -57.0L87.0 -57.4L88.0 -57.1L91.3 -54.0L96.3 -50.7L97.5 -49.3L100.1 -42.0L100.2 -40.7L99.5 -36.7L99.6 -35.3L101.9 -30.7L103.3 -28.3L104.0 -27.6L105.0 -27.1L109.7 -26.7L110.3 -26.3L110.7 -25.7L112.6 -14.7L113.7 -5.0L113.6 -3.3L113.1 -1.7L110.6 3.0L109.9 3.7L106.0 6.0Z"/>
<circle cx="0" cy="0" r="30" fill="#fff"/>
</g>
<path d="M9.4 -67.9 L4.9 -66.6 L1.1 -67.0 L-0.6 -67.5 L-1.7 -65.2 L-2.9 -67.2 L-4.4 -65.2 L-5.7 -66.4 L-7.1 -64.2 L-8.7 -65.6 L-9.8 -63.2 L-11.7 -63.4 L-13.4 -62.1 L-12.6 -60.1 L-14.5 -58.0 L-16.5 -55.2 L-18.3 -52.0 L-19.5 -48.4 L-20.3 -44.7 L-21.3 -40.6 L-22.4 -37.0 L-23.8 -33.8 L-23.3 -30.7 L-24.8 -28.0 L-28.1 -25.9 L-32.6 -24.3 L-36.3 -22.5 L-39.0 -19.2 L-39.9 -17.1 L-41.1 -18.0 L-42.7 -20.8 L-44.8 -23.7 L-47.2 -26.6 L-50.1 -29.0 L-53.8 -30.6 L-57.9 -31.9 L-61.5 -32.9 L-64.4 -33.3 L-66.9 -32.3 L-69.2 -31.9 L-70.3 -33.9 L-71.0 -36.4 L-72.2 -38.8 L-73.8 -41.3 L-75.1 -43.7 L-75.4 -46.6 L-74.2 -47.8 L-74.6 -50.7 L-75.5 -52.7 L-76.7 -52.3 L-77.5 -49.9 L-77.9 -46.6 L-77.5 -43.7 L-78.7 -41.3 L-78.3 -39.2 L-76.7 -38.0 L-75.5 -36.0 L-74.2 -33.5 L-73.0 -31.5 L-73.8 -29.4 L-73.0 -27.8 L-71.4 -28.2 L-70.1 -29.8 L-68.5 -29.0 L-66.5 -27.4 L-65.2 -25.7 L-66.9 -24.5 L-67.9 -23.3 L-66.5 -22.2 L-63.6 -22.1 L-60.3 -23.3 L-57.9 -23.7 L-55.4 -22.9 L-53.8 -20.8 L-53.1 -18.0 L-53.8 -15.5 L-55.4 -15.1 L-56.6 -13.9 L-57.5 -11.8 L-56.9 -9.7 L-57.3 -8.6 L-57.7 -4.5 L-57.9 -2.4 L-58.5 1.4 L-59.9 4.8 L-61.3 8.2 L-60.3 11.6 L-57.9 10.3 L-57.2 7.5 L-54.9 6.8 L-55.4 10.3 L-51.7 9.6 L-50.4 12.3 L-51.7 15.0 L-49.0 16.4 L-50.4 19.8 L-47.2 20.5 L-48.3 23.9 L-46.3 24.6 L-48.0 28.0 L-47.2 30.7 L-43.5 30.0 L-39.4 29.0 L-37.4 29.4 L-37.7 32.8 L-36.7 36.2 L-33.3 37.5 L-29.2 38.2 L-25.8 39.9 L-23.8 37.5 L-21.0 36.9 L-19.0 38.9 L-16.2 40.7 L-15.2 36.9 L-16.2 33.5 L-16.9 30.0 L-17.2 26.2 L-13.5 26.6 L-11.5 23.9 L-10.1 19.8 L-8.7 15.7 L-7.1 13.4 L-7.5 13.2 L-4.2 14.5 L-0.1 19.4 L4.0 21.9 L8.0 25.1 L11.3 29.2 L13.0 34.1 L11.3 38.2 L13.0 41.5 L14.6 46.4 L14.3 52.1 L11.3 55.4 L9.7 58.7 L10.5 62.0 L13.8 63.6 L17.9 64.7 L20.3 62.8 L21.6 64.1 L24.4 65.7 L28.5 66.1 L31.8 64.4 L35.9 64.7 L39.2 62.8 L42.4 64.1 L44.9 62.0 L46.5 62.8 L49.8 62.0 L53.9 59.5 L58.0 56.2 L60.9 53.8 L61.3 50.5 L64.9 49.7 L67.0 46.4 L68.6 42.3 L71.1 37.4 L74.4 33.3 L77.3 29.2 L76.8 24.3 L78.4 20.2 L80.9 16.9 L81.7 10.4 L81.2 3.8 L80.9 -2.7 L81.3 7.2 L80.8 1.7 L79.9 -3.1 L78.5 -7.9 L76.5 -11.3 L73.8 -14.0 L70.3 -16.1 L67.3 -18.1 L66.2 -20.6 L63.5 -21.9 L65.2 -23.9 L69.0 -25.2 L71.4 -27.0 L70.3 -29.7 L69.2 -33.1 L68.3 -37.2 L67.2 -41.3 L68.0 -45.4 L66.9 -48.8 L64.6 -50.9 L61.5 -51.1 L59.4 -50.2 L57.4 -52.2 L54.0 -55.0 L50.6 -56.1 L46.5 -55.6 L43.1 -54.3 L41.7 -57.7 L40.7 -61.1 L39.6 -59.7 L36.9 -60.1 L32.1 -60.7 L26.7 -61.5 L22.6 -63.4 L18.5 -65.2 L14.4 -67.0 L10.3 -67.7 L5.5 -67.5 L2.1 -66.6 L-0.6 -64.5 Z M-62.8 -21.2 L-59.5 -22.1 L-57.0 -21.2 L-56.2 -19.2 L-57.9 -17.1 L-60.3 -15.9 L-62.4 -15.5 L-62.8 -18.8 L-62.8 -21.2 M-66.1 -18.4 L-65.2 -19.0 L-64.3 -18.3 L-64.6 -17.1 L-65.6 -16.8 L-66.1 -18.4 M-82.5 -51.9 L-81.9 -51.9 L-82.1 -46.2 L-82.7 -46.2 L-82.5 -51.9 M-74.0 -70.8 L-72.3 -71.6 M-11.7 33.0 L-10.4 31.7 L-9.8 33.9 L-11.2 36.6 L-12.0 34.8 L-11.7 33.0 M7.9 41.8 L9.9 41.2 M-76.1 -51.5 L-76.5 -47.4 L-76.3 -43.3 L-75.1 -40.1 L-73.4 -36.8 L-72.2 -33.5 L-71.6 -31.1 M-79.1 -40.9 L-77.5 -40.1 L-78.3 -38.3" fill="none" stroke="#000" stroke-width="1.1" stroke-linejoin="round"/>
<circle cx="0" cy="0" r="122.3" fill="none" stroke="#111" stroke-width="1"/>
</g>
<g transform="translate(366.1 633.9)">
<g clip-path="url(#clipc)">
<rect x="-130" y="-130" width="260" height="260" fill="#4678FF"/>
<path fill="#82AAFF" fill-rule="evenodd" d="M126.0 126.0L-126.0 126.0L-126.0 -126.0L126.0 -126.0L126.0 126.0ZM59.7 -22.0L62.0 -23.2L62.3 -23.7L62.3 -24.0L61.7 -24.5L60.0 -24.8L57.3 -24.5L55.0 -23.7L54.3 -23.0L54.5 -22.3L55.3 -21.9L59.7 -22.0ZM19.1 63.3L20.0 63.0L22.0 62.9L22.6 62.7L22.9 62.3L22.8 61.0L21.7 58.7L20.7 57.9L18.0 57.1L16.0 56.9L14.7 57.1L13.8 58.0L13.8 59.0L14.4 60.7L15.5 62.7L16.0 63.1L17.3 63.4L18.3 63.5L19.1 63.3Z"/>
<path fill="#B4CDFF" fill-rule="evenodd" d="M126.0 126.0L-126.0 126.0L-126.0 -126.0L126.0 -126.0L126.0 126.0ZM56.8 -21.0L60.0 -21.5L62.9 -22.7L64.3 -23.7L64.4 -24.3L63.5 -25.0L61.7 -25.5L59.7 -25.6L57.7 -25.4L52.0 -24.2L50.4 -23.3L49.4 -22.3L49.8 -21.7L51.7 -21.0L55.0 -20.8L56.8 -21.0ZM-34.5 -4.3L-33.2 -5.0L-32.4 -6.0L-32.4 -6.3L-32.8 -7.0L-34.0 -7.8L-36.7 -8.2L-40.0 -7.8L-41.0 -7.4L-41.8 -6.3L-41.7 -5.7L-41.0 -5.0L-39.7 -4.3L-35.7 -4.2L-34.5 -4.3ZM24.8 64.7L25.7 64.0L26.1 63.3L26.2 62.7L26.1 61.7L25.0 59.7L22.3 57.2L19.0 55.5L15.7 54.7L14.3 54.7L13.3 54.8L12.3 55.2L11.7 55.8L11.0 57.7L11.0 58.7L11.4 59.7L12.7 61.4L15.1 63.3L16.0 63.8L18.0 64.3L20.3 63.4L22.9 64.7L24.0 64.8L24.8 64.7Z"/>
<path fill="#D7E8FF" fill-rule="evenodd" d="M126.0 126.0L-126.0 126.0L-126.0 -126.0L126.0 -126.0L126.0 126.0ZM33.5 -46.0L35.0 -46.7L35.8 -47.7L36.0 -48.7L35.4 -49.7L34.0 -50.8L32.0 -51.9L30.0 -52.5L27.0 -53.1L26.8 -53.3L26.7 -54.7L26.4 -55.3L25.5 -56.0L24.0 -56.6L20.7 -57.5L17.0 -58.2L8.3 -58.3L6.3 -58.2L5.0 -57.8L3.7 -57.1L3.2 -56.3L3.3 -55.3L3.9 -54.7L5.0 -54.0L6.7 -53.4L9.0 -52.9L18.3 -51.9L18.7 -51.7L19.8 -50.0L21.0 -48.8L22.7 -47.7L25.0 -46.7L27.3 -46.1L29.7 -45.8L32.0 -45.8L33.5 -46.0ZM68.3 -25.3L69.6 -26.0L70.4 -26.7L70.8 -27.3L70.9 -28.0L69.7 -31.9L69.0 -33.2L68.3 -33.8L67.3 -33.9L65.9 -33.3L64.7 -32.0L64.3 -30.3L64.3 -28.3L64.9 -26.7L65.8 -25.7L67.0 -25.2L68.3 -25.3ZM56.5 -20.3L60.7 -21.1L63.3 -22.1L65.0 -23.7L65.1 -24.7L64.3 -25.4L62.0 -26.2L58.0 -26.2L51.7 -24.9L50.0 -23.9L48.7 -22.7L48.7 -22.0L49.0 -21.5L50.7 -20.6L52.7 -20.3L56.5 -20.3ZM-50.1 14.7L-49.6 14.0L-49.4 12.7L-49.5 10.3L-50.4 4.3L-50.5 1.3L-50.8 0.7L-51.8 -0.7L-52.2 -1.7L-52.8 -7.7L-52.5 -9.3L-52.1 -10.3L-51.3 -11.2L-49.2 -13.0L-49.1 -13.7L-49.4 -15.7L-49.7 -17.0L-52.3 -21.7L-53.7 -23.0L-54.7 -23.5L-55.7 -23.7L-55.9 -23.7L-54.8 -22.7L-53.5 -20.7L-53.1 -19.3L-53.0 -18.0L-53.8 -15.7L-56.2 -14.0L-56.7 -13.3L-57.2 -12.0L-56.9 -9.7L-57.3 -7.6L-57.9 -0.3L-57.9 3.3L-57.4 5.3L-56.8 6.7L-56.4 7.0L-55.3 7.4L-55.1 7.7L-54.7 9.7L-52.0 9.8L-51.1 10.7L-50.4 12.3L-51.0 14.0L-51.0 14.7L-50.7 14.8L-50.1 14.7ZM-34.3 -4.0L-33.0 -4.7L-32.3 -5.3L-32.0 -6.0L-32.3 -7.0L-33.7 -8.1L-36.7 -8.6L-38.0 -8.5L-40.3 -8.1L-41.3 -7.5L-42.2 -6.3L-42.1 -5.7L-41.3 -4.8L-39.7 -3.9L-35.7 -3.8L-34.3 -4.0ZM81.4 10.0L81.7 9.0L81.4 6.0L81.1 5.0L80.7 4.8L80.0 5.1L79.6 5.7L79.3 6.7L79.3 8.0L79.6 9.0L80.0 9.7L80.7 10.2L81.0 10.2L81.4 10.0ZM75.0 32.3L76.0 31.6L77.0 30.3L77.5 29.3L77.3 24.3L79.3 18.7L78.9 18.0L78.0 17.5L77.0 17.5L75.7 17.8L74.3 18.9L73.7 20.4L72.7 24.8L72.5 27.3L72.9 29.7L74.0 31.7L74.7 32.3L75.0 32.3ZM28.8 65.3L32.0 64.4L36.0 64.4L39.0 63.0L39.7 63.0L41.6 63.7L42.3 63.7L44.7 62.4L46.7 62.2L47.6 61.3L48.1 60.3L48.3 59.0L48.0 57.7L47.1 56.7L45.2 55.7L42.3 55.0L39.7 54.6L33.3 54.4L19.7 54.6L14.3 54.0L13.3 54.2L12.3 54.7L11.7 55.2L11.1 56.0L10.3 58.3L10.4 60.3L11.2 62.0L13.0 63.4L14.4 64.0L17.3 64.8L18.3 64.7L20.3 63.8L22.0 64.7L23.7 65.3L28.8 65.3Z"/>
<path fill="#FFEBD7" fill-rule="evenodd" d="M126.0 126.0L-126.0 126.0L-126.0 -126.0L126.0 -126.0L126.0 126.0ZM29.6 66.0L32.0 65.2L36.0 65.2L39.3 63.7L42.3 64.5L43.0 64.3L45.0 63.1L47.0 63.0L50.0 62.0L53.3 60.2L55.3 58.8L58.2 56.3L59.7 54.7L60.0 54.0L59.7 54.0L56.7 55.2L54.0 55.9L49.0 56.3L47.7 56.0L44.7 54.8L40.3 54.0L33.7 53.8L25.7 53.9L22.7 53.7L20.7 53.0L19.2 51.3L18.7 50.0L18.6 48.7L19.5 46.0L19.2 45.3L17.5 43.3L16.5 41.0L15.8 38.0L15.5 35.3L15.5 33.7L15.8 31.7L16.5 30.0L17.3 29.1L19.2 27.7L19.5 27.0L19.2 23.0L19.2 12.3L19.8 3.0L21.0 -4.0L22.5 -7.0L23.3 -7.7L24.3 -7.9L28.3 -7.6L33.3 -7.5L46.3 -6.0L48.3 -5.4L51.0 -4.0L52.7 -2.7L54.2 -1.0L54.8 0.0L55.2 1.3L55.3 2.7L55.0 3.7L51.9 8.7L49.3 14.0L48.0 17.3L45.4 25.3L40.1 39.0L39.6 40.0L38.1 41.7L38.5 42.0L39.3 42.1L47.7 42.6L53.0 43.2L57.7 44.3L59.7 45.3L61.0 46.5L61.8 48.0L62.0 50.0L62.3 50.5L64.0 49.7L66.7 47.0L71.4 37.3L73.5 34.7L76.0 32.5L78.0 29.7L78.2 28.7L77.9 24.3L79.3 20.7L80.2 19.0L81.1 16.7L81.8 12.0L82.4 9.7L82.2 6.0L81.6 3.3L81.4 1.0L81.0 -1.0L80.1 -3.0L78.7 -8.0L77.1 -10.7L73.3 -14.4L68.0 -17.9L64.7 -21.7L64.8 -22.3L66.0 -23.8L68.3 -24.6L69.7 -25.3L71.0 -26.3L71.6 -27.3L71.2 -29.3L69.0 -35.3L68.3 -38.3L67.0 -40.7L67.0 -41.9L67.8 -43.7L68.1 -45.3L67.6 -47.3L66.7 -48.6L65.3 -49.2L64.3 -50.0L63.4 -50.3L61.7 -50.3L60.0 -50.0L59.0 -50.1L58.3 -50.5L56.0 -52.7L54.3 -54.0L53.0 -54.7L51.3 -55.2L48.7 -55.3L46.6 -55.0L44.3 -54.3L43.3 -54.4L42.4 -55.0L41.3 -56.7L40.0 -58.1L39.0 -58.9L38.3 -59.2L31.7 -60.2L26.7 -61.2L23.7 -62.3L19.4 -64.3L14.5 -66.3L9.3 -67.2L5.7 -66.9L3.3 -65.4L2.3 -65.1L1.3 -65.0L-0.3 -65.7L-1.9 -65.3L-2.0 -65.0L-1.6 -61.0L-1.9 -58.0L-2.3 -57.0L-3.0 -56.2L-3.7 -55.8L-4.7 -55.8L-5.7 -56.3L-6.6 -57.7L-7.0 -59.7L-7.1 -63.7L-7.3 -64.0L-7.7 -64.0L-8.3 -63.7L-10.3 -61.7L-14.0 -57.7L-16.0 -55.0L-17.6 -52.0L-19.0 -47.9L-20.9 -40.0L-22.9 -34.0L-23.0 -33.0L-22.9 -31.0L-23.1 -30.0L-24.0 -28.3L-25.0 -27.3L-27.3 -25.8L-31.9 -24.0L-34.4 -22.7L-35.7 -21.7L-37.7 -19.7L-39.3 -17.6L-40.3 -17.2L-41.0 -17.4L-41.7 -18.0L-45.3 -23.2L-46.7 -24.6L-47.0 -24.6L-47.2 -24.0L-47.6 -18.7L-48.0 -18.0L-48.7 -17.7L-49.3 -17.9L-49.8 -18.3L-51.7 -21.8L-52.7 -22.9L-53.7 -23.6L-55.3 -24.3L-56.7 -24.5L-57.7 -24.5L-58.6 -24.0L-58.4 -23.7L-56.0 -23.1L-55.1 -22.3L-53.9 -20.7L-53.4 -18.3L-54.1 -16.0L-56.4 -14.3L-57.1 -13.3L-57.6 -12.0L-57.4 -9.7L-57.8 -7.0L-58.5 1.0L-59.0 4.0L-58.9 4.7L-57.0 7.3L-55.4 8.0L-55.2 9.7L-55.0 10.1L-54.7 10.2L-52.3 10.2L-51.7 10.6L-51.2 11.3L-50.9 12.3L-51.6 14.7L-51.0 15.3L-49.7 15.6L-49.1 16.0L-48.9 16.7L-48.8 18.3L-47.2 20.7L-47.2 23.0L-46.4 25.0L-46.6 27.0L-46.3 27.7L-45.0 29.0L-44.3 29.4L-43.3 29.4L-41.9 29.0L-41.6 28.7L-41.7 28.3L-43.1 25.3L-44.5 20.0L-45.2 16.3L-45.4 14.0L-45.3 10.7L-44.8 8.3L-43.0 2.7L-43.3 2.5L-46.0 2.1L-49.0 1.2L-50.0 0.6L-51.3 -0.7L-51.6 -1.3L-51.9 -2.3L-51.8 -4.3L-52.1 -7.3L-51.9 -9.0L-51.5 -10.0L-50.6 -11.0L-49.0 -12.0L-47.7 -12.3L-44.0 -12.2L-37.7 -11.5L-34.3 -10.8L-31.8 -9.7L-30.5 -8.7L-29.9 -7.7L-29.4 -6.3L-29.3 -4.7L-29.6 -3.7L-30.3 -2.7L-32.6 -1.0L-30.5 1.3L-29.5 3.7L-28.9 7.0L-29.0 10.3L-29.8 15.0L-31.7 21.6L-32.0 23.7L-32.0 26.3L-31.8 29.0L-31.9 30.0L-32.7 31.3L-33.7 31.9L-34.7 32.1L-36.7 32.0L-36.9 32.3L-36.9 33.0L-36.3 34.3L-34.4 36.3L-33.3 37.0L-29.0 37.9L-26.7 38.8L-25.7 38.7L-23.7 37.2L-22.0 36.7L-20.7 36.8L-18.7 38.1L-18.0 38.0L-16.6 36.7L-16.2 35.7L-17.5 29.7L-17.6 27.7L-17.2 26.7L-16.7 26.2L-15.0 25.9L-14.3 25.6L-12.1 23.3L-11.3 21.7L-9.4 16.0L-8.2 14.0L-7.3 13.5L-6.7 13.3L-5.7 13.5L-4.7 13.9L-3.3 14.9L0.7 19.0L8.4 24.7L11.5 28.7L12.9 32.0L13.2 33.3L13.3 34.3L12.3 37.3L12.2 38.3L12.3 39.0L13.5 41.7L13.7 42.7L13.9 44.7L14.3 46.7L14.1 51.0L13.9 52.0L13.4 52.7L10.8 55.3L9.6 58.0L9.5 59.7L10.4 62.0L11.7 63.2L13.3 64.2L16.7 65.2L18.3 65.2L20.3 64.3L22.7 65.5L24.7 66.1L28.0 66.3L29.6 66.0ZM-104.6 -55.7L-103.8 -56.3L-103.3 -57.3L-103.3 -58.3L-103.7 -60.2L-104.0 -61.0L-104.7 -61.6L-105.3 -61.8L-106.3 -61.7L-107.0 -61.3L-107.7 -60.1L-107.8 -58.7L-107.7 -57.1L-107.0 -56.0L-106.5 -55.7L-104.6 -55.7ZM-9.0 -28.6L-10.7 -28.6L-12.3 -28.9L-13.7 -29.5L-15.3 -30.5L-16.5 -31.7L-17.5 -33.0L-18.6 -36.3L-18.7 -41.0L-18.2 -43.3L-17.7 -44.7L-16.7 -46.0L-15.7 -47.0L-14.0 -47.9L-12.3 -48.5L-8.3 -48.4L-6.3 -47.9L-5.0 -47.1L-3.7 -45.7L-3.0 -44.7L-1.6 -41.7L-0.9 -39.0L-0.6 -36.7L-0.6 -35.0L-1.0 -33.3L-1.7 -32.1L-3.3 -30.5L-4.7 -29.7L-6.7 -29.0L-9.0 -28.6ZM32.0 -27.7L28.7 -27.5L27.0 -27.7L23.7 -28.6L21.0 -30.0L19.7 -31.7L19.1 -33.3L19.1 -35.3L20.1 -37.3L21.0 -38.2L23.0 -39.1L26.3 -39.7L28.3 -39.8L32.7 -39.5L36.0 -38.8L38.3 -38.0L40.3 -36.8L41.5 -35.3L42.0 -33.7L41.9 -32.0L41.0 -30.3L39.8 -29.3L38.0 -28.5L34.7 -27.9L32.0 -27.7ZM-112.6 -30.7L-111.8 -31.3L-111.3 -32.3L-111.3 -33.7L-111.6 -34.7L-112.3 -35.5L-114.7 -35.5L-115.2 -35.0L-115.7 -34.0L-115.8 -33.0L-115.6 -32.0L-115.0 -31.0L-114.3 -30.6L-113.3 -30.5L-112.6 -30.7ZM46.7 -25.3L44.7 -25.3L43.3 -25.5L42.4 -26.3L42.2 -27.0L42.3 -27.7L43.0 -28.5L46.3 -30.9L51.7 -33.2L56.0 -34.5L58.0 -34.7L60.3 -34.7L61.3 -34.5L61.9 -34.0L62.2 -33.0L61.5 -31.7L59.7 -30.2L57.7 -28.9L52.7 -26.8L46.7 -25.3ZM63.3 -7.6L61.7 -7.5L52.7 -7.9L44.0 -8.7L41.3 -9.5L40.3 -10.0L39.1 -11.0L38.3 -12.0L37.8 -13.0L37.4 -14.3L37.3 -15.7L37.3 -16.7L37.7 -18.0L38.5 -19.3L39.7 -20.2L41.0 -20.7L43.3 -20.8L48.3 -20.4L51.7 -19.7L61.7 -18.5L63.7 -18.1L66.0 -17.4L67.7 -16.3L68.9 -15.0L69.5 -13.3L69.4 -11.7L68.7 -10.2L67.4 -9.0L65.7 -8.2L63.3 -7.6ZM-34.1 -3.7L-32.7 -4.4L-31.8 -5.3L-31.6 -6.0L-31.7 -6.7L-32.1 -7.3L-33.0 -8.2L-33.7 -8.5L-36.7 -8.9L-38.3 -8.9L-40.3 -8.5L-41.7 -7.8L-42.5 -6.7L-42.5 -5.7L-42.1 -5.0L-41.0 -4.1L-40.0 -3.6L-39.0 -3.4L-35.7 -3.4L-34.1 -3.7ZM66.7 29.0L63.7 29.2L61.0 28.4L60.0 27.8L58.7 26.6L57.2 24.0L56.2 20.3L55.0 11.3L55.2 10.0L55.7 9.0L56.7 8.1L57.7 7.6L59.7 7.0L62.3 6.8L64.7 6.9L67.0 7.2L69.3 8.0L71.0 8.9L72.2 10.0L73.1 11.3L73.4 12.3L73.7 14.0L73.4 18.0L72.5 23.0L71.7 25.8L71.0 26.9L70.0 27.8L68.3 28.5L66.7 29.0Z"/>
<path fill="#FFCDB4" fill-rule="evenodd" d="M126.0 126.0L-126.0 126.0L-126.0 -126.0L126.0 -126.0L126.0 126.0ZM31.6 -85.3L33.0 -85.8L34.3 -86.7L35.7 -87.9L36.4 -89.0L36.7 -90.0L36.6 -91.0L36.1 -92.0L35.3 -92.5L33.7 -92.8L32.0 -92.5L30.3 -91.4L29.2 -90.0L28.7 -88.3L28.6 -87.0L28.8 -86.3L29.3 -85.7L30.0 -85.3L31.6 -85.3ZM72.2 -61.7L74.4 -63.0L76.1 -65.0L76.4 -66.0L76.3 -66.9L76.0 -67.7L75.3 -68.1L74.3 -68.5L73.3 -68.6L71.0 -68.1L69.0 -67.0L68.0 -65.7L67.5 -63.7L67.7 -63.0L68.3 -62.1L69.0 -61.7L69.7 -61.5L71.3 -61.5L72.2 -61.7ZM29.7 68.0L32.0 66.9L36.3 66.8L39.3 65.5L40.0 65.6L41.7 66.1L43.0 66.1L45.3 64.9L48.0 64.8L50.3 64.2L54.7 61.9L58.3 59.1L62.0 55.8L62.9 54.7L63.3 53.1L63.7 52.6L65.8 51.7L66.7 51.0L69.1 47.3L70.6 43.7L73.1 38.7L76.7 34.3L77.0 34.0L77.3 34.3L77.7 39.0L78.0 40.0L78.8 41.0L80.0 41.1L81.3 40.5L82.4 39.3L84.1 34.7L84.7 34.5L87.3 34.5L88.7 34.3L90.3 33.5L91.4 32.3L91.9 30.7L92.1 29.3L92.1 28.3L91.7 27.3L90.7 26.1L89.7 25.4L88.3 24.9L86.0 24.7L85.5 24.3L85.4 23.7L86.7 11.0L87.0 6.3L87.1 1.3L86.8 -6.7L86.8 -13.7L87.6 -22.7L88.8 -31.3L88.7 -34.3L88.1 -37.7L87.4 -40.0L86.4 -42.0L84.7 -44.7L83.3 -46.3L81.7 -47.9L78.7 -50.0L75.0 -51.4L73.0 -51.8L72.0 -51.5L70.8 -50.3L70.0 -48.1L69.7 -48.2L68.3 -50.5L66.3 -52.3L65.9 -52.3L65.4 -51.0L65.0 -50.8L62.7 -51.2L59.7 -50.8L58.7 -51.2L56.4 -53.3L54.7 -54.7L51.7 -55.9L50.3 -56.1L48.7 -56.1L43.7 -55.2L43.0 -55.5L42.0 -57.1L40.8 -58.3L39.0 -59.8L38.0 -60.1L31.7 -61.0L26.7 -62.0L23.7 -63.1L19.0 -65.4L14.3 -67.2L8.7 -68.0L5.3 -67.7L3.0 -66.2L2.0 -65.8L1.3 -65.9L-0.3 -66.6L-1.7 -66.4L-3.3 -66.5L-5.3 -65.5L-8.1 -64.7L-9.1 -64.0L-12.3 -60.8L-15.8 -56.7L-16.9 -55.0L-18.3 -52.3L-19.3 -49.3L-21.5 -40.3L-23.6 -34.0L-23.8 -30.3L-24.7 -28.8L-25.7 -27.8L-28.0 -26.3L-32.7 -24.4L-35.0 -23.0L-38.4 -20.0L-39.7 -18.5L-40.3 -18.2L-41.2 -18.7L-45.2 -24.0L-47.0 -25.7L-47.4 -25.7L-47.8 -25.0L-48.3 -19.3L-48.6 -18.7L-49.0 -18.5L-49.7 -19.0L-51.5 -22.3L-52.7 -23.5L-53.7 -24.1L-55.3 -24.8L-57.0 -25.0L-58.3 -24.8L-59.5 -24.0L-59.7 -23.7L-59.6 -23.3L-57.0 -23.0L-55.5 -22.3L-54.3 -20.7L-53.8 -18.3L-54.3 -16.3L-56.8 -14.3L-57.9 -12.3L-58.0 -11.3L-57.7 -9.7L-58.2 -7.0L-58.5 -2.0L-58.9 1.0L-59.7 3.7L-59.7 4.7L-59.3 5.4L-57.3 7.8L-55.7 8.3L-55.5 10.0L-55.3 10.3L-54.7 10.6L-52.3 10.6L-51.7 11.3L-51.3 12.3L-51.9 14.7L-51.6 15.3L-49.9 16.3L-49.6 18.7L-47.9 21.0L-48.0 23.3L-47.2 25.3L-47.5 27.0L-47.3 27.7L-46.3 28.8L-45.0 30.0L-44.3 30.2L-43.3 30.2L-41.3 29.7L-40.8 29.3L-40.7 29.0L-42.1 26.3L-42.8 24.3L-44.2 19.0L-44.8 14.7L-44.8 11.7L-44.4 9.0L-43.8 6.7L-42.1 2.3L-42.3 2.0L-42.7 1.9L-45.0 1.8L-46.7 1.4L-48.7 0.8L-50.0 0.1L-51.0 -0.8L-51.4 -1.7L-51.5 -3.0L-51.3 -4.0L-50.7 -4.7L-49.0 -5.2L-47.7 -5.2L-45.0 -4.8L-43.0 -4.1L-41.3 -3.2L-40.0 -2.0L-38.7 -0.3L-38.3 -0.1L-35.7 -0.5L-34.0 -0.6L-32.7 -0.1L-31.7 0.7L-30.7 2.0L-29.9 4.0L-29.5 6.0L-29.5 8.7L-29.8 11.7L-30.5 15.3L-32.0 20.7L-32.4 22.7L-32.6 25.3L-32.4 29.7L-33.0 30.8L-34.0 31.4L-35.0 31.5L-36.7 31.3L-37.4 31.3L-37.7 31.7L-37.8 32.7L-37.6 33.7L-37.1 34.7L-34.3 37.3L-32.7 38.0L-29.3 38.6L-26.7 39.7L-25.7 39.6L-23.5 38.0L-21.7 37.5L-20.7 37.7L-19.3 38.7L-18.3 39.0L-17.6 38.7L-16.2 37.3L-15.5 36.3L-15.4 35.7L-16.7 29.7L-16.8 28.3L-16.6 27.3L-16.0 26.9L-14.7 26.7L-14.0 26.3L-11.4 23.7L-10.7 22.3L-8.7 16.3L-7.7 14.7L-7.0 14.2L-6.3 14.2L-5.3 14.5L-4.4 15.0L0.3 19.8L8.0 25.4L11.0 29.3L12.4 33.0L12.4 34.7L11.5 37.3L11.4 38.3L11.6 39.3L12.9 42.3L13.0 44.0L12.3 46.5L11.9 51.0L9.3 54.3L7.6 58.0L7.6 60.0L8.2 62.3L8.7 63.3L10.0 64.4L12.3 65.6L16.3 66.7L18.3 66.8L20.3 66.1L24.0 67.8L26.3 68.2L29.7 68.0ZM-98.6 -50.3L-97.0 -51.1L-95.9 -52.3L-95.1 -54.3L-94.7 -57.0L-94.9 -60.0L-95.6 -62.7L-97.0 -65.3L-97.3 -65.7L-98.0 -66.0L-98.7 -65.7L-99.3 -64.9L-101.0 -62.3L-102.3 -59.7L-102.7 -59.4L-103.0 -59.7L-103.5 -61.0L-104.0 -61.7L-105.0 -62.2L-106.0 -62.2L-107.0 -61.9L-107.6 -61.3L-108.0 -60.3L-108.3 -59.0L-108.2 -57.3L-107.6 -56.0L-106.7 -55.3L-104.3 -54.9L-104.1 -54.7L-104.0 -53.3L-103.8 -52.3L-102.8 -51.0L-102.0 -50.5L-101.0 -50.2L-98.6 -50.3ZM-4.0 -57.0L-4.7 -57.1L-5.3 -57.7L-5.9 -59.7L-5.9 -63.3L-5.5 -64.7L-5.0 -65.5L-4.0 -65.4L-3.5 -65.0L-3.0 -64.0L-2.8 -62.7L-2.7 -60.7L-2.9 -58.7L-3.3 -57.5L-4.0 -57.0ZM-105.5 -24.7L-104.0 -25.0L-101.3 -25.9L-100.3 -26.5L-99.3 -27.7L-98.3 -31.0L-98.2 -34.0L-97.3 -37.0L-97.3 -39.0L-97.5 -40.3L-98.5 -42.3L-99.5 -43.3L-101.3 -44.5L-104.3 -45.4L-105.7 -45.6L-109.3 -45.5L-113.3 -44.4L-115.7 -42.7L-116.7 -40.7L-117.1 -38.0L-116.8 -35.3L-117.7 -33.0L-117.9 -31.0L-117.9 -29.3L-117.6 -28.0L-117.0 -27.0L-116.3 -26.3L-115.3 -25.6L-114.0 -25.1L-109.7 -24.5L-105.5 -24.7ZM-4.3 -31.6L-6.3 -31.4L-8.7 -32.1L-10.7 -32.3L-11.4 -32.7L-12.3 -33.5L-13.1 -35.3L-14.7 -37.2L-15.3 -38.3L-16.0 -40.0L-16.1 -41.3L-15.9 -42.7L-15.4 -43.7L-14.7 -44.3L-14.0 -44.7L-13.0 -45.0L-11.0 -44.6L-8.9 -43.3L-7.0 -41.6L-4.0 -40.3L-2.7 -39.1L-2.0 -38.0L-1.7 -37.0L-1.5 -35.7L-1.7 -34.3L-2.0 -33.4L-2.6 -32.7L-4.3 -31.6ZM77.7 -13.8L75.3 -15.7L69.7 -19.3L69.0 -20.2L68.3 -21.7L68.4 -22.3L68.7 -22.6L70.7 -23.6L72.5 -25.0L73.2 -26.0L73.5 -27.0L73.4 -28.3L71.6 -33.3L69.8 -40.7L69.8 -42.3L70.0 -43.1L70.3 -43.4L71.4 -41.3L72.4 -38.3L73.7 -34.0L75.3 -27.7L76.9 -22.7L77.7 -17.7L78.0 -14.3L77.7 -13.8ZM47.3 -25.9L45.0 -25.8L43.7 -26.0L42.8 -26.7L42.8 -27.3L43.7 -28.4L46.4 -30.3L52.0 -32.8L55.3 -33.9L57.3 -34.2L60.7 -34.2L61.5 -33.7L61.5 -32.7L61.0 -31.8L59.0 -30.3L57.3 -29.3L52.7 -27.3L47.3 -25.9ZM96.0 -12.7L97.3 -13.2L98.0 -13.9L98.2 -15.0L98.0 -16.0L97.3 -16.9L96.3 -17.4L95.7 -17.4L94.0 -17.0L93.3 -16.3L93.1 -15.7L93.1 -14.7L93.3 -14.0L93.7 -13.3L94.7 -12.7L96.0 -12.7ZM58.0 -12.3L52.7 -12.1L48.3 -12.7L47.0 -13.3L46.6 -14.0L46.6 -14.7L47.0 -15.4L48.0 -15.9L53.0 -16.6L56.0 -16.5L59.7 -16.1L61.0 -15.7L61.7 -15.1L61.9 -14.7L61.9 -14.0L61.3 -13.2L60.3 -12.7L58.0 -12.3ZM-108.0 1.7L-102.7 1.0L-100.3 0.4L-99.3 -0.1L-98.7 -0.8L-98.4 -1.7L-98.6 -2.3L-99.9 -4.0L-104.3 -8.4L-106.0 -9.8L-107.7 -10.7L-109.0 -11.0L-112.0 -11.4L-115.3 -11.6L-116.7 -11.2L-118.3 -10.3L-119.6 -8.7L-120.2 -6.0L-120.1 -2.7L-118.9 -0.3L-117.0 1.1L-114.7 1.7L-111.0 1.9L-108.0 1.7ZM66.0 27.7L63.3 27.7L61.3 27.0L60.3 26.3L59.4 25.3L58.3 22.9L58.1 19.7L58.3 18.5L58.9 17.0L59.7 15.9L60.6 15.0L63.0 14.0L66.3 14.0L69.0 14.8L70.3 15.6L71.3 16.5L72.0 17.5L72.2 18.3L72.3 19.7L71.7 23.2L70.7 25.3L69.0 26.7L67.5 27.3L66.0 27.7ZM52.3 54.7L47.7 54.8L44.7 53.9L40.3 53.4L33.7 53.1L25.0 53.3L23.3 53.0L21.9 52.3L20.7 51.1L20.1 49.7L20.0 48.3L20.7 46.3L20.6 45.7L19.0 44.0L18.0 42.7L17.4 41.3L16.8 39.0L16.3 35.7L16.3 33.7L16.6 31.7L17.2 30.3L18.0 29.5L19.0 28.9L20.7 28.1L21.7 28.0L23.0 28.1L24.0 28.6L26.1 30.3L26.9 31.3L27.6 32.7L28.8 36.7L28.9 39.7L28.4 42.7L28.7 43.2L35.3 43.1L40.3 43.3L51.0 44.3L53.4 44.7L56.2 45.3L58.1 46.0L59.6 47.0L60.3 48.1L60.5 49.3L60.2 50.7L59.3 52.1L58.1 53.0L56.6 53.7L54.3 54.3L52.3 54.7ZM-33.3 70.0L-32.7 69.3L-32.7 68.3L-33.3 67.6L-34.3 67.7L-34.7 68.0L-35.0 68.7L-34.8 69.7L-34.3 70.0L-33.3 70.0Z"/>
<path fill="#FFAA87" fill-rule="evenodd" d="M126.0 126.0L-126.0 126.0L-126.0 13.4L-123.7 15.2L-122.7 15.4L-118.3 14.9L-110.3 14.2L-103.0 12.9L-97.0 12.3L-94.3 12.2L-89.7 12.5L-86.3 12.2L-84.7 11.7L-83.4 11.0L-82.1 10.0L-81.2 9.0L-80.2 6.3L-79.9 4.3L-79.9 2.7L-80.2 -2.0L-80.6 -2.7L-82.2 -4.0L-83.4 -5.3L-84.0 -6.3L-84.5 -8.0L-84.7 -9.0L-84.5 -10.0L-83.3 -11.7L-83.2 -12.3L-85.0 -18.7L-88.4 -32.0L-89.3 -34.0L-90.2 -35.3L-92.0 -37.0L-94.0 -38.2L-94.4 -38.7L-94.5 -39.3L-94.5 -42.7L-93.8 -46.0L-92.4 -50.0L-89.2 -57.3L-89.3 -58.0L-90.6 -60.0L-91.5 -62.0L-92.3 -64.7L-92.9 -67.7L-92.9 -71.7L-92.5 -74.7L-91.6 -77.7L-91.7 -78.2L-92.3 -77.8L-93.7 -75.9L-98.3 -67.3L-100.1 -65.0L-102.7 -60.8L-104.0 -62.2L-105.3 -62.6L-106.7 -62.5L-107.3 -62.2L-108.1 -61.3L-108.5 -60.3L-108.6 -59.3L-108.5 -57.0L-107.7 -55.5L-105.8 -54.3L-106.2 -53.3L-110.1 -46.7L-111.3 -45.7L-113.7 -45.1L-115.7 -43.7L-116.9 -42.0L-117.7 -39.7L-117.9 -39.3L-124.0 -35.8L-126.0 -33.7L-126.0 -126.0L126.0 -126.0L126.0 126.0ZM-23.2 -102.7L-22.6 -103.3L-22.5 -104.7L-23.6 -109.0L-25.0 -112.0L-26.2 -113.0L-27.0 -113.0L-27.4 -112.3L-27.5 -110.7L-27.2 -108.0L-26.7 -106.4L-25.8 -104.3L-25.1 -103.3L-24.0 -102.6L-23.2 -102.7ZM4.4 83.0L6.7 79.9L8.7 78.1L11.0 76.6L14.0 75.1L20.7 73.3L22.0 72.7L22.2 72.0L22.0 71.5L21.3 70.9L19.7 70.0L19.7 69.7L20.7 69.6L22.7 70.3L25.0 70.8L30.0 70.8L33.3 69.6L37.0 69.4L39.7 68.7L44.0 68.7L46.7 67.6L49.0 67.4L51.3 66.8L55.7 64.6L58.4 62.7L63.0 58.8L64.4 57.3L66.1 55.0L68.7 53.0L71.6 48.7L73.3 44.7L74.3 42.9L74.7 43.0L74.9 47.3L75.8 49.7L77.0 51.5L78.2 52.7L79.0 53.0L80.0 52.7L80.7 52.0L80.9 51.3L81.4 48.3L82.1 46.0L82.8 44.7L83.6 43.7L85.8 42.0L93.0 37.8L96.0 35.6L98.4 33.0L100.7 29.3L101.3 28.8L103.3 27.9L104.5 27.0L105.5 26.0L106.0 24.7L106.0 22.7L105.2 20.7L104.0 19.3L103.3 19.0L102.3 18.8L97.7 19.5L95.0 19.2L94.3 19.3L93.6 20.0L93.0 21.3L92.9 23.0L93.1 25.0L92.8 25.7L92.3 26.1L91.7 26.0L90.3 24.9L89.3 24.5L88.3 24.2L86.5 24.0L86.2 23.7L86.2 22.7L87.0 15.0L87.3 14.3L87.7 14.3L89.0 14.8L90.0 14.8L92.0 13.9L100.0 12.6L107.3 10.7L110.2 9.0L112.1 7.3L114.0 4.3L114.6 2.0L114.7 -0.7L114.1 -4.0L113.1 -7.3L111.2 -11.7L110.6 -13.7L110.6 -16.7L111.4 -20.3L111.5 -22.0L111.4 -23.7L111.1 -25.0L110.1 -26.7L107.3 -30.0L105.7 -31.6L103.3 -33.1L102.1 -34.7L100.8 -38.3L99.4 -45.3L97.7 -52.7L95.5 -59.7L93.8 -62.7L90.1 -66.7L87.6 -70.3L86.0 -73.1L84.7 -76.3L84.0 -77.3L83.0 -78.2L82.0 -78.5L81.0 -78.5L78.7 -77.9L76.7 -78.2L75.7 -78.7L73.9 -80.0L72.3 -80.8L70.0 -81.7L66.7 -82.6L64.3 -83.5L62.9 -84.3L62.0 -85.4L61.1 -87.3L60.9 -88.3L60.9 -92.3L60.1 -96.0L59.0 -97.5L57.3 -98.7L54.7 -99.6L49.3 -100.2L46.7 -100.2L42.0 -99.6L39.7 -99.7L38.0 -100.2L36.3 -101.0L31.0 -104.5L29.7 -105.1L28.3 -105.5L27.3 -105.5L26.3 -105.1L23.3 -102.7L22.0 -101.2L21.2 -100.0L20.0 -96.7L19.6 -93.0L20.0 -89.7L21.3 -85.3L23.0 -82.3L27.0 -77.3L27.7 -76.8L30.0 -76.1L37.3 -74.9L43.3 -75.0L46.7 -75.9L48.0 -75.6L48.6 -75.0L48.8 -74.3L49.0 -70.0L49.5 -66.3L50.1 -64.3L51.0 -62.7L52.6 -61.0L54.3 -59.7L58.3 -58.0L63.3 -55.0L64.4 -53.7L64.6 -52.7L64.4 -52.0L59.7 -51.7L59.0 -52.0L57.0 -53.9L55.0 -55.4L53.3 -56.2L51.3 -56.8L48.3 -56.9L44.0 -56.0L43.4 -56.3L42.5 -57.7L41.0 -59.3L39.3 -60.5L38.3 -60.9L32.2 -61.7L27.1 -62.7L24.3 -63.7L19.0 -66.2L14.0 -68.1L9.0 -68.8L5.7 -68.6L4.7 -68.3L2.9 -67.0L2.0 -66.7L1.3 -66.8L0.0 -67.4L-1.7 -67.3L-3.0 -67.4L-8.7 -65.0L-10.2 -64.0L-12.9 -61.3L-16.5 -57.0L-17.4 -55.7L-19.1 -52.3L-22.0 -40.5L-24.1 -34.0L-24.5 -30.7L-25.2 -29.3L-26.1 -28.3L-28.3 -26.8L-33.0 -24.8L-35.0 -23.6L-39.7 -19.5L-40.3 -19.2L-41.0 -19.5L-41.9 -20.3L-44.0 -23.3L-45.2 -24.7L-46.7 -26.1L-47.3 -26.4L-47.7 -26.4L-48.0 -26.0L-48.3 -25.3L-48.9 -22.0L-49.0 -20.4L-49.3 -20.0L-50.8 -22.3L-51.7 -23.3L-53.3 -24.5L-55.0 -25.1L-57.0 -25.4L-58.7 -25.2L-60.0 -24.4L-60.7 -23.3L-60.6 -23.0L-60.3 -22.8L-57.7 -22.7L-56.0 -22.2L-54.7 -20.4L-54.3 -18.7L-54.7 -16.7L-57.1 -14.7L-57.8 -13.7L-58.5 -12.0L-58.3 -9.7L-58.6 -7.3L-59.0 -2.5L-59.5 0.7L-60.5 3.7L-60.5 5.0L-59.9 6.0L-57.7 8.4L-57.0 8.8L-56.3 8.7L-56.1 9.0L-55.8 10.3L-55.3 10.9L-52.8 11.0L-52.0 11.7L-51.9 12.7L-52.4 14.7L-52.0 15.5L-50.6 16.7L-50.5 18.7L-50.1 19.3L-49.0 20.7L-48.7 21.3L-48.8 23.3L-48.0 25.3L-48.3 27.0L-48.2 27.7L-47.6 28.7L-45.7 30.5L-44.7 31.0L-43.3 30.9L-40.7 30.3L-40.1 30.0L-39.9 29.7L-40.0 29.0L-41.7 26.3L-42.4 24.3L-43.8 19.0L-44.5 14.3L-44.4 11.0L-43.7 7.7L-42.4 4.0L-41.2 1.7L-42.0 1.4L-44.5 1.3L-46.4 1.0L-48.5 0.3L-50.3 -0.7L-51.0 -1.7L-51.1 -2.7L-51.0 -3.4L-50.3 -4.0L-48.7 -4.4L-45.0 -4.0L-43.1 -3.3L-41.0 -1.9L-39.0 0.5L-35.0 -0.2L-34.0 -0.2L-33.0 0.2L-31.6 1.3L-30.4 3.7L-29.9 6.3L-29.9 9.7L-30.9 15.3L-32.3 20.5L-32.7 22.4L-33.0 25.3L-32.7 28.7L-32.8 29.7L-33.3 30.6L-34.0 31.0L-35.3 31.1L-37.7 30.7L-38.3 31.0L-38.6 31.7L-38.5 33.3L-37.8 35.0L-35.7 37.2L-34.3 38.2L-32.7 38.8L-29.7 39.4L-27.7 40.2L-26.3 40.5L-25.3 40.3L-23.3 38.8L-22.0 38.3L-21.0 38.4L-19.7 39.5L-18.7 39.9L-18.0 39.9L-17.0 39.2L-15.1 37.3L-14.6 36.0L-16.0 29.4L-15.9 28.0L-15.4 27.7L-14.3 27.4L-13.3 26.9L-10.9 24.3L-10.1 23.0L-8.0 16.7L-7.3 15.5L-6.7 15.0L-6.0 15.1L-4.8 15.7L0.0 20.5L7.0 25.5L10.0 29.3L11.0 31.3L11.7 33.5L11.7 34.4L10.8 37.0L10.6 38.3L10.8 39.3L12.3 43.0L12.2 44.3L10.4 48.7L5.2 56.7L4.8 58.3L5.0 62.3L4.5 62.7L1.0 63.5L-0.7 64.4L-3.7 67.0L-4.6 68.3L-4.9 69.3L-4.9 70.7L-4.5 72.0L-1.5 77.0L2.7 82.8L3.7 83.3L4.4 83.0ZM7.3 -84.0L10.0 -84.8L11.9 -86.3L13.2 -88.3L14.1 -91.3L14.2 -94.3L13.6 -97.0L11.9 -100.0L11.0 -101.0L10.0 -101.6L7.3 -102.7L4.7 -102.9L2.7 -102.7L-0.7 -101.7L-2.7 -101.6L-3.7 -101.8L-7.0 -103.0L-9.3 -103.2L-11.7 -102.8L-14.3 -101.6L-16.3 -101.0L-18.0 -101.1L-21.0 -102.0L-21.7 -101.9L-22.3 -101.3L-22.4 -100.7L-22.2 -99.3L-20.1 -93.3L-18.4 -90.7L-17.0 -89.6L-15.3 -88.8L-14.0 -88.5L-7.7 -88.4L-6.0 -88.2L-4.0 -87.4L-1.7 -85.9L2.7 -84.2L5.0 -83.8L7.3 -84.0ZM-12.0 -39.6L-12.7 -39.4L-13.3 -39.4L-14.0 -39.8L-14.5 -40.3L-14.7 -41.0L-14.7 -42.0L-14.3 -42.7L-13.7 -43.4L-13.0 -43.5L-12.0 -43.4L-11.5 -43.0L-11.1 -42.3L-10.9 -41.3L-11.0 -40.7L-11.4 -40.0L-12.0 -39.6ZM46.7 -26.3L44.0 -26.4L43.5 -26.7L43.3 -27.0L43.3 -27.3L44.3 -28.3L46.8 -30.0L52.6 -32.7L56.0 -33.7L57.7 -33.9L59.7 -33.9L60.7 -33.7L61.0 -33.3L61.0 -32.7L60.5 -32.0L58.7 -30.5L57.0 -29.6L52.3 -27.7L46.7 -26.3ZM76.3 -18.5L73.6 -20.0L73.0 -20.6L72.8 -21.0L73.0 -21.7L75.3 -23.8L75.7 -23.7L76.0 -23.1L76.4 -21.7L76.7 -19.3L76.7 -18.7L76.3 -18.5ZM-117.7 -16.3L-118.3 -16.2L-119.0 -16.5L-119.5 -17.0L-119.8 -17.7L-119.7 -19.3L-119.3 -20.0L-118.7 -20.4L-117.7 -20.4L-116.0 -19.8L-115.0 -19.2L-114.5 -18.7L-114.5 -18.0L-115.1 -17.3L-117.7 -16.3ZM22.7 44.8L21.7 44.9L21.0 44.7L19.7 43.7L18.7 42.3L17.7 39.6L17.1 35.7L17.1 32.7L17.7 31.0L18.2 30.3L19.0 29.7L21.0 29.0L22.3 29.1L23.3 29.4L24.6 30.3L25.7 31.5L26.3 32.5L27.0 34.1L27.8 37.3L27.9 39.0L27.7 40.7L27.4 42.0L27.0 42.7L26.0 43.5L22.7 44.8ZM-33.0 70.7L-32.3 70.2L-32.0 69.7L-31.9 69.0L-32.0 68.0L-32.4 67.3L-33.0 66.9L-34.3 66.9L-35.1 67.3L-35.6 68.0L-35.7 68.7L-35.6 69.7L-35.2 70.3L-34.7 70.7L-33.7 70.9L-33.0 70.7ZM-18.4 91.0L-17.3 90.1L-16.8 89.0L-15.8 84.7L-15.6 82.3L-15.9 80.7L-16.7 79.7L-17.3 79.5L-19.0 79.4L-20.1 80.0L-20.8 81.3L-22.1 86.0L-22.4 88.7L-22.1 90.0L-21.3 91.0L-20.0 91.2L-18.4 91.0ZM80.1 91.7L81.1 91.0L81.6 90.0L81.6 88.3L81.1 87.0L80.3 86.2L79.3 85.8L78.0 85.8L77.0 86.1L76.2 87.0L75.8 88.0L75.8 89.3L76.1 90.3L76.9 91.3L77.7 91.7L79.0 91.9L80.1 91.7Z"/>
<path fill="#FF7841" fill-rule="evenodd" d="M20.3 -110.6L18.7 -110.5L16.0 -110.9L12.7 -111.9L9.3 -113.2L4.7 -115.8L-1.3 -117.7L-3.3 -118.6L-4.7 -119.5L-7.3 -121.9L-9.7 -122.2L-11.0 -122.8L-11.7 -123.5L-12.0 -124.3L-12.1 -126.0L-9.8 -126.0L-7.0 -122.4L-1.0 -122.5L9.7 -121.4L21.0 -119.1L26.7 -117.7L31.3 -115.9L32.0 -115.3L32.5 -114.7L32.3 -113.9L31.0 -113.3L27.3 -112.4L23.3 -111.2L20.3 -110.6ZM-40.0 -20.2L-40.7 -20.2L-41.3 -20.7L-43.5 -23.7L-46.3 -26.4L-47.3 -27.0L-48.0 -27.0L-48.3 -26.7L-48.9 -25.3L-49.3 -24.0L-49.7 -23.7L-50.0 -23.7L-54.3 -25.5L-59.0 -26.4L-63.7 -27.8L-66.3 -29.0L-67.7 -29.4L-73.7 -30.4L-77.7 -30.6L-79.7 -31.1L-80.7 -31.5L-82.0 -32.7L-83.4 -34.7L-84.4 -36.3L-85.0 -38.0L-86.1 -43.7L-86.4 -47.3L-86.4 -50.7L-86.2 -54.3L-85.8 -57.0L-84.3 -60.3L-83.3 -61.7L-82.0 -62.9L-79.7 -64.4L-73.0 -66.9L-69.7 -68.6L-67.3 -70.2L-65.8 -71.7L-64.2 -73.7L-63.2 -75.7L-62.5 -78.0L-62.0 -81.0L-62.0 -84.0L-62.4 -86.7L-63.6 -90.0L-65.4 -93.0L-69.8 -97.3L-70.7 -99.0L-73.1 -102.7L-73.2 -103.7L-72.9 -105.3L-71.3 -108.2L-68.3 -111.8L-64.2 -115.7L-58.3 -119.7L-53.3 -121.9L-47.7 -123.9L-42.0 -124.5L-38.0 -124.6L-36.3 -124.4L-34.3 -123.8L-33.3 -122.7L-32.8 -121.3L-33.6 -115.7L-36.8 -103.0L-37.5 -99.3L-37.8 -95.3L-37.3 -92.0L-36.5 -89.3L-35.0 -86.7L-30.6 -81.0L-26.9 -75.7L-25.0 -72.7L-23.5 -69.7L-22.3 -66.3L-21.3 -62.3L-20.0 -52.0L-20.3 -50.0L-22.3 -41.6L-24.6 -34.7L-25.2 -31.3L-26.0 -29.8L-27.0 -28.7L-28.2 -27.7L-33.0 -25.5L-35.7 -23.9L-39.3 -20.7L-40.0 -20.2ZM41.7 -110.9L39.0 -110.8L37.0 -111.2L35.5 -112.3L35.2 -113.0L35.2 -113.7L36.0 -114.7L36.7 -115.1L37.7 -115.4L40.3 -115.6L42.3 -115.2L43.9 -114.0L44.2 -113.3L44.2 -112.7L43.9 -112.0L43.3 -111.5L41.7 -110.9ZM78.7 -91.3L77.7 -91.1L76.3 -91.2L74.7 -91.6L73.7 -92.0L72.7 -93.0L72.2 -94.0L72.1 -95.3L72.5 -96.3L73.3 -96.8L74.3 -96.7L77.0 -95.8L78.7 -94.8L79.4 -94.0L79.7 -93.0L79.5 -92.0L78.7 -91.3ZM-32.7 -60.3L-32.0 -61.0L-31.8 -61.7L-32.1 -63.0L-32.6 -64.3L-35.9 -69.0L-39.4 -72.7L-43.0 -76.1L-46.0 -78.4L-50.0 -80.8L-51.4 -81.3L-53.0 -81.7L-54.0 -81.3L-54.5 -80.7L-54.6 -79.7L-54.2 -78.3L-53.3 -76.7L-52.1 -74.7L-47.1 -69.0L-42.7 -65.2L-38.7 -62.3L-34.7 -60.3L-33.7 -60.1L-32.7 -60.3ZM-8.7 -65.7L-9.7 -65.4L-10.7 -65.5L-11.9 -66.3L-13.1 -67.7L-14.4 -70.0L-14.7 -71.7L-14.9 -73.7L-14.7 -75.3L-14.4 -76.7L-13.0 -79.1L-12.0 -80.2L-11.0 -81.0L-9.7 -81.6L-8.3 -81.8L-7.3 -81.6L-6.0 -81.0L-5.0 -80.2L-3.9 -79.0L-2.6 -76.7L-2.3 -75.3L-2.1 -73.3L-2.6 -70.0L-3.6 -68.3L-4.8 -67.3L-7.3 -66.1L-8.7 -65.7ZM11.3 -69.6L6.7 -69.6L5.1 -70.0L4.0 -70.8L3.3 -71.7L3.0 -73.0L3.1 -74.0L4.7 -76.1L8.3 -78.4L10.7 -79.4L12.3 -79.8L14.0 -79.9L15.7 -79.5L17.0 -78.5L17.9 -77.3L18.2 -76.0L17.9 -74.7L16.9 -73.0L15.5 -71.7L13.0 -70.3L11.3 -69.6ZM30.3 -68.6L28.7 -68.9L27.6 -70.0L27.5 -71.0L27.8 -71.7L29.0 -72.6L30.3 -72.7L31.0 -72.6L31.7 -72.2L32.2 -71.3L32.3 -70.3L32.1 -69.7L31.3 -69.0L30.3 -68.6ZM112.3 -41.9L111.3 -41.8L110.7 -42.2L109.9 -43.3L109.5 -44.7L109.4 -46.7L109.6 -48.3L110.2 -49.3L111.0 -49.8L112.0 -49.6L112.9 -49.0L113.6 -48.0L113.9 -47.0L113.9 -45.0L113.7 -43.3L113.1 -42.3L112.3 -41.9ZM52.0 -28.3L50.3 -28.0L49.7 -28.1L48.7 -28.5L48.3 -29.0L48.3 -29.3L49.3 -30.5L52.7 -32.3L57.7 -33.6L59.3 -33.5L59.9 -33.3L60.1 -33.0L60.1 -32.7L59.7 -32.0L58.1 -30.7L53.3 -28.6L52.0 -28.3ZM45.3 126.0L-89.8 126.0L-90.5 125.3L-95.4 122.3L-95.8 121.7L-96.0 120.7L-97.9 103.3L-97.7 102.0L-95.7 92.0L-94.7 91.0L-89.3 88.2L-87.0 85.7L-86.8 85.0L-87.4 82.3L-87.4 79.7L-86.6 77.3L-85.2 74.7L-80.1 67.3L-77.7 64.3L-68.0 54.0L-66.0 51.0L-65.4 49.0L-65.3 48.0L-65.5 47.0L-65.9 46.0L-66.3 45.3L-68.0 43.8L-71.3 42.3L-73.2 40.3L-74.4 36.7L-77.2 31.0L-78.0 27.3L-77.7 21.7L-77.1 18.3L-76.1 14.7L-75.5 12.0L-74.7 5.3L-74.3 3.3L-71.7 -5.0L-71.0 -5.3L-70.5 -5.0L-69.2 -2.0L-67.8 0.7L-66.0 3.1L-62.0 7.7L-60.7 9.7L-57.3 16.6L-54.6 21.3L-50.8 30.0L-49.3 33.0L-46.7 36.7L-44.3 39.2L-43.3 40.0L-43.0 39.7L-42.9 38.3L-42.3 37.6L-41.3 37.2L-39.7 37.1L-38.0 37.6L-35.7 38.7L-32.3 41.0L-27.0 43.5L-21.3 44.7L-16.7 44.2L-15.7 43.8L-14.3 43.0L-11.3 40.5L-10.7 40.3L-9.2 40.3L-9.0 39.7L-9.2 37.0L-10.2 34.7L-10.2 33.3L-9.7 32.3L-9.1 31.7L-6.3 29.9L-4.3 29.2L-2.0 28.6L0.3 28.4L2.7 28.6L4.0 29.0L5.3 29.7L6.4 30.7L7.4 32.0L8.0 34.7L8.2 38.3L7.9 41.7L7.2 46.0L5.8 51.0L4.1 55.3L2.7 57.7L1.1 59.0L0.0 59.4L-1.3 59.1L-2.3 58.5L-5.0 56.3L-5.8 55.0L-6.5 53.3L-8.0 47.3L-8.3 46.9L-10.3 48.2L-11.3 48.6L-18.0 49.2L-24.3 48.6L-28.0 48.5L-34.0 47.6L-34.3 47.7L-34.5 48.0L-34.7 49.0L-35.2 49.7L-39.6 55.0L-44.7 60.1L-48.7 62.4L-53.0 63.0L-56.3 64.3L-58.8 66.3L-60.4 69.0L-60.7 71.0L-60.4 72.0L-59.7 72.7L-58.3 73.0L-57.0 72.9L-54.7 72.2L-50.3 69.9L-48.0 69.8L-46.7 70.0L-44.7 71.4L-43.5 72.7L-42.3 74.3L-41.2 77.3L-40.3 78.5L-38.7 79.7L-35.3 80.4L-33.7 80.2L-32.7 79.7L-29.3 76.0L-27.9 74.0L-26.7 72.9L-25.3 72.4L-24.0 72.1L-23.0 72.2L-22.0 72.8L-21.5 73.7L-21.5 75.3L-23.6 80.3L-27.1 85.7L-32.0 91.0L-30.7 91.5L-28.8 93.7L-27.4 98.3L-25.1 104.3L-24.7 104.7L-23.0 104.9L-22.0 105.4L-21.2 106.7L-20.7 108.3L-20.4 108.7L-20.0 108.7L-19.3 108.4L-18.2 107.3L-17.0 105.7L-15.6 102.7L-14.7 101.5L-13.0 100.5L-10.6 100.3L-10.7 99.7L-12.1 97.7L-13.1 95.3L-14.0 92.0L-14.4 88.0L-14.3 85.0L-13.6 81.7L-12.7 80.0L-11.3 79.2L-10.0 79.2L-9.3 79.5L-8.3 80.2L-7.2 81.7L-6.3 83.4L-5.6 85.3L-4.7 89.0L-4.5 92.7L-4.8 96.7L-5.3 98.3L-6.0 99.7L-6.7 100.4L-8.0 101.3L-7.9 101.7L-5.3 104.1L-4.3 104.7L-2.3 105.3L0.3 104.9L2.3 105.9L3.1 106.7L5.1 110.0L6.7 111.8L9.0 113.7L10.0 114.2L11.0 113.8L12.1 113.0L14.0 109.0L15.6 107.0L15.8 106.3L14.8 105.7L13.9 104.0L13.1 100.7L12.8 97.3L12.7 93.7L13.1 89.7L13.7 87.8L14.3 87.1L14.7 87.0L15.3 87.3L16.0 88.3L16.8 90.7L17.3 94.0L17.6 98.0L17.5 101.0L17.3 102.7L16.6 105.7L17.0 105.8L19.3 105.7L22.0 105.0L23.3 104.1L23.9 103.3L25.8 98.7L27.8 90.0L30.4 86.0L31.3 85.1L34.3 84.6L36.0 84.6L38.7 85.2L41.0 86.8L41.9 86.7L43.0 86.0L43.5 85.3L45.3 80.3L46.7 78.6L47.7 78.1L48.7 78.1L49.3 78.3L50.9 79.7L51.8 80.7L54.6 85.3L56.0 86.9L57.3 87.5L58.3 87.4L59.0 86.7L59.9 83.3L61.4 81.3L62.3 80.9L63.7 80.6L64.7 80.9L65.7 81.7L67.5 85.0L68.9 87.0L72.4 91.0L73.7 92.8L74.0 94.0L73.8 95.7L69.4 102.7L64.4 110.0L52.0 120.8L46.0 125.3L45.3 126.0ZM-34.3 30.7L-35.8 30.7L-38.7 29.8L-41.0 26.9L-42.0 24.5L-43.3 19.3L-44.0 15.7L-44.1 13.3L-44.0 10.7L-43.3 7.7L-42.3 4.8L-41.4 3.0L-40.7 2.2L-38.7 0.9L-36.5 0.3L-34.7 0.1L-33.0 0.6L-32.3 1.1L-31.6 2.0L-30.6 4.3L-30.2 7.7L-30.3 10.1L-31.0 14.0L-32.6 20.3L-33.3 24.7L-33.1 29.3L-33.6 30.3L-34.3 30.7ZM117.7 17.4L116.0 17.3L115.0 16.9L114.4 16.3L114.2 15.7L114.2 15.0L114.5 14.3L115.3 13.6L118.3 13.2L119.7 13.6L120.5 14.3L120.7 15.0L120.7 15.7L120.1 16.7L119.3 17.2L117.7 17.4ZM111.3 45.8L110.0 45.8L109.0 45.3L107.7 44.2L106.9 43.0L106.6 41.7L106.5 38.7L106.7 37.7L107.3 36.5L108.0 35.9L109.3 35.1L112.3 34.2L114.3 34.3L117.3 34.7L118.0 34.9L119.3 35.7L120.1 36.7L120.6 38.0L120.6 39.7L119.7 41.3L118.0 42.5L114.7 43.4L112.7 45.0L111.3 45.8ZM-65.1 64.7L-63.7 63.9L-62.9 62.7L-62.7 61.0L-62.9 60.0L-63.3 59.4L-64.3 58.8L-66.0 58.1L-69.3 58.1L-70.0 58.3L-70.7 58.8L-71.1 59.3L-71.4 60.7L-71.1 62.0L-70.6 63.0L-69.7 63.7L-68.0 64.5L-66.3 64.8L-65.1 64.7ZM-99.0 67.1L-100.0 66.7L-101.0 65.6L-102.0 63.7L-102.1 62.3L-101.6 61.3L-100.7 60.7L-98.3 59.9L-97.3 59.9L-96.4 60.3L-95.9 61.0L-95.8 61.7L-96.0 63.0L-97.2 65.7L-98.1 66.7L-99.0 67.1ZM79.3 80.0L79.0 80.1L78.3 79.7L76.6 77.7L75.2 75.0L75.2 74.3L75.4 74.0L76.0 73.8L76.7 74.0L78.1 75.3L80.0 78.7L80.0 79.4L79.3 80.0Z"/>
<path fill="#FF5019" fill-rule="evenodd" d="M-54.3 -91.9L-59.3 -91.8L-64.3 -93.6L-66.4 -95.0L-68.3 -96.7L-69.4 -98.0L-69.4 -99.0L-68.7 -99.9L-67.7 -100.8L-59.7 -105.1L-58.0 -105.8L-56.7 -106.1L-55.3 -106.1L-54.3 -105.8L-53.3 -105.0L-52.6 -103.7L-51.3 -99.6L-50.8 -96.0L-51.1 -94.7L-51.8 -93.3L-52.7 -92.7L-54.3 -91.9ZM-7.7 -67.0L-9.3 -66.9L-10.5 -67.7L-11.5 -69.3L-12.1 -71.7L-12.0 -74.0L-11.4 -76.3L-10.3 -77.8L-9.0 -78.5L-7.7 -78.4L-6.3 -77.5L-5.5 -76.0L-5.0 -74.0L-4.9 -71.7L-5.5 -69.3L-6.2 -68.0L-7.7 -67.0ZM13.3 -74.0L12.7 -73.8L12.3 -73.9L11.4 -75.0L11.5 -76.0L12.7 -76.9L13.4 -76.7L14.2 -75.7L14.1 -74.7L13.3 -74.0ZM-40.3 -24.3L-42.3 -24.2L-43.7 -24.7L-46.3 -27.2L-47.3 -27.8L-48.3 -27.7L-49.3 -26.5L-49.7 -26.3L-51.3 -26.9L-54.3 -28.9L-56.0 -30.5L-57.1 -32.0L-58.5 -34.3L-59.7 -37.7L-61.0 -40.3L-62.9 -44.0L-65.7 -48.7L-67.2 -52.0L-67.7 -54.7L-67.4 -57.0L-66.6 -58.7L-65.0 -60.2L-62.7 -61.3L-60.0 -61.8L-58.3 -61.9L-54.7 -61.4L-50.0 -60.0L-44.7 -57.4L-41.9 -55.7L-35.7 -50.4L-31.4 -45.7L-29.2 -41.7L-28.0 -38.3L-27.3 -35.0L-27.6 -33.0L-28.3 -32.0L-31.7 -28.7L-34.4 -26.3L-37.0 -25.1L-40.3 -24.3ZM53.0 -30.3L52.4 -30.3L53.0 -30.7L53.7 -30.7L53.0 -30.3ZM-34.3 30.1L-35.0 30.2L-36.0 30.1L-37.9 29.3L-39.3 28.2L-40.7 26.4L-41.3 24.8L-42.7 19.8L-43.3 16.4L-43.5 14.0L-43.4 11.0L-43.0 8.5L-42.0 5.4L-41.0 3.3L-40.3 2.6L-38.5 1.3L-37.6 1.0L-35.3 0.6L-34.2 0.7L-33.3 1.0L-32.0 2.3L-31.0 5.1L-30.8 7.3L-30.8 9.7L-31.3 13.0L-32.0 16.2L-32.9 19.3L-33.3 23.0L-33.9 25.3L-33.7 29.2L-34.0 29.9L-34.3 30.1ZM-67.3 16.7L-68.0 16.6L-68.7 16.3L-69.4 15.3L-69.5 14.7L-69.3 14.0L-68.3 13.3L-67.7 13.3L-66.8 13.7L-66.1 14.7L-66.3 15.9L-67.3 16.7ZM-63.0 29.4L-64.0 29.4L-65.3 29.0L-66.0 28.6L-66.7 27.7L-67.1 26.0L-67.0 24.3L-66.5 23.3L-65.7 22.7L-64.3 22.6L-62.7 23.0L-61.7 23.7L-61.1 24.7L-60.9 26.3L-61.2 27.7L-62.0 28.9L-63.0 29.4ZM0.3 30.0L-2.0 30.0L-1.9 29.7L-1.0 29.6L0.4 29.7L0.5 30.0L0.3 30.0ZM-51.7 43.7L-53.7 43.9L-55.3 43.7L-56.4 43.0L-57.4 41.7L-57.8 40.0L-57.5 38.7L-56.7 37.1L-55.3 35.9L-53.7 35.5L-51.7 35.5L-50.0 36.3L-48.9 37.7L-48.5 39.3L-48.5 40.3L-48.8 41.3L-50.0 42.9L-51.7 43.7ZM-48.0 51.0L-49.0 51.1L-49.7 51.0L-50.9 50.0L-51.6 48.7L-51.6 46.7L-51.1 45.3L-49.7 44.2L-48.3 43.8L-46.3 43.9L-45.3 44.3L-44.5 45.3L-44.2 46.7L-44.4 48.0L-44.8 49.0L-45.3 49.7L-46.7 50.6L-48.0 51.0ZM-52.0 99.4L-52.7 99.3L-53.3 98.8L-54.0 97.7L-54.9 95.3L-55.7 94.5L-56.3 94.3L-57.3 94.3L-59.7 94.9L-65.7 96.7L-67.3 96.8L-68.7 96.3L-69.7 95.5L-70.6 94.3L-71.8 91.7L-72.4 88.7L-72.3 87.3L-71.9 86.3L-70.7 85.0L-69.0 84.1L-58.0 81.7L-51.0 79.2L-50.0 79.1L-49.0 79.5L-48.2 80.3L-47.8 81.3L-47.6 83.7L-47.8 85.7L-48.2 87.3L-49.6 89.3L-50.1 90.7L-50.5 92.7L-50.4 95.3L-50.5 97.0L-51.0 98.4L-52.0 99.4Z"/>
<path fill="#E13200" fill-rule="evenodd" d="M-8.0 -68.6L-8.7 -68.6L-9.4 -69.3L-9.8 -70.0L-10.0 -71.3L-9.9 -72.7L-9.6 -73.7L-9.0 -74.5L-8.3 -74.8L-7.7 -74.6L-7.0 -74.0L-6.6 -73.0L-6.4 -72.0L-6.5 -70.7L-6.8 -69.7L-7.3 -69.0L-8.0 -68.6ZM-35.7 25.4L-37.0 25.5L-38.0 25.0L-38.9 24.0L-39.3 23.0L-39.4 21.3L-39.1 20.0L-38.3 19.0L-37.0 18.2L-36.0 18.2L-35.0 18.6L-34.0 19.6L-33.7 20.3L-33.7 22.0L-34.0 23.8L-34.7 24.8L-35.7 25.4Z"/>
<circle cx="0" cy="0" r="30" fill="#fff"/>
<line x1="-0.2" y1="-60" x2="-0.2" y2="-125" stroke="#fff" stroke-opacity="0.3" stroke-width="0.5"/>
</g>
<path d="M9.4 -67.9 L4.9 -66.6 L1.1 -67.0 L-0.6 -67.5 L-1.7 -65.2 L-2.9 -67.2 L-4.4 -65.2 L-5.7 -66.4 L-7.1 -64.2 L-8.7 -65.6 L-9.8 -63.2 L-11.7 -63.4 L-13.4 -62.1 L-12.6 -60.1 L-14.5 -58.0 L-16.5 -55.2 L-18.3 -52.0 L-19.5 -48.4 L-20.3 -44.7 L-21.3 -40.6 L-22.4 -37.0 L-23.8 -33.8 L-23.3 -30.7 L-24.8 -28.0 L-28.1 -25.9 L-32.6 -24.3 L-36.3 -22.5 L-39.0 -19.2 L-39.9 -17.1 L-41.1 -18.0 L-42.7 -20.8 L-44.8 -23.7 L-47.2 -26.6 L-50.1 -29.0 L-53.8 -30.6 L-57.9 -31.9 L-61.5 -32.9 L-64.4 -33.3 L-66.9 -32.3 L-69.2 -31.9 L-70.3 -33.9 L-71.0 -36.4 L-72.2 -38.8 L-73.8 -41.3 L-75.1 -43.7 L-75.4 -46.6 L-74.2 -47.8 L-74.6 -50.7 L-75.5 -52.7 L-76.7 -52.3 L-77.5 -49.9 L-77.9 -46.6 L-77.5 -43.7 L-78.7 -41.3 L-78.3 -39.2 L-76.7 -38.0 L-75.5 -36.0 L-74.2 -33.5 L-73.0 -31.5 L-73.8 -29.4 L-73.0 -27.8 L-71.4 -28.2 L-70.1 -29.8 L-68.5 -29.0 L-66.5 -27.4 L-65.2 -25.7 L-66.9 -24.5 L-67.9 -23.3 L-66.5 -22.2 L-63.6 -22.1 L-60.3 -23.3 L-57.9 -23.7 L-55.4 -22.9 L-53.8 -20.8 L-53.1 -18.0 L-53.8 -15.5 L-55.4 -15.1 L-56.6 -13.9 L-57.5 -11.8 L-56.9 -9.7 L-57.3 -8.6 L-57.7 -4.5 L-57.9 -2.4 L-58.5 1.4 L-59.9 4.8 L-61.3 8.2 L-60.3 11.6 L-57.9 10.3 L-57.2 7.5 L-54.9 6.8 L-55.4 10.3 L-51.7 9.6 L-50.4 12.3 L-51.7 15.0 L-49.0 16.4 L-50.4 19.8 L-47.2 20.5 L-48.3 23.9 L-46.3 24.6 L-48.0 28.0 L-47.2 30.7 L-43.5 30.0 L-39.4 29.0 L-37.4 29.4 L-37.7 32.8 L-36.7 36.2 L-33.3 37.5 L-29.2 38.2 L-25.8 39.9 L-23.8 37.5 L-21.0 36.9 L-19.0 38.9 L-16.2 40.7 L-15.2 36.9 L-16.2 33.5 L-16.9 30.0 L-17.2 26.2 L-13.5 26.6 L-11.5 23.9 L-10.1 19.8 L-8.7 15.7 L-7.1 13.4 L-7.5 13.2 L-4.2 14.5 L-0.1 19.4 L4.0 21.9 L8.0 25.1 L11.3 29.2 L13.0 34.1 L11.3 38.2 L13.0 41.5 L14.6 46.4 L14.3 52.1 L11.3 55.4 L9.7 58.7 L10.5 62.0 L13.8 63.6 L17.9 64.7 L20.3 62.8 L21.6 64.1 L24.4 65.7 L28.5 66.1 L31.8 64.4 L35.9 64.7 L39.2 62.8 L42.4 64.1 L44.9 62.0 L46.5 62.8 L49.8 62.0 L53.9 59.5 L58.0 56.2 L60.9 53.8 L61.3 50.5 L64.9 49.7 L67.0 46.4 L68.6 42.3 L71.1 37.4 L74.4 33.3 L77.3 29.2 L76.8 24.3 L78.4 20.2 L80.9 16.9 L81.7 10.4 L81.2 3.8 L80.9 -2.7 L81.3 7.2 L80.8 1.7 L79.9 -3.1 L78.5 -7.9 L76.5 -11.3 L73.8 -14.0 L70.3 -16.1 L67.3 -18.1 L66.2 -20.6 L63.5 -21.9 L65.2 -23.9 L69.0 -25.2 L71.4 -27.0 L70.3 -29.7 L69.2 -33.1 L68.3 -37.2 L67.2 -41.3 L68.0 -45.4 L66.9 -48.8 L64.6 -50.9 L61.5 -51.1 L59.4 -50.2 L57.4 -52.2 L54.0 -55.0 L50.6 -56.1 L46.5 -55.6 L43.1 -54.3 L41.7 -57.7 L40.7 -61.1 L39.6 -59.7 L36.9 -60.1 L32.1 -60.7 L26.7 -61.5 L22.6 -63.4 L18.5 -65.2 L14.4 -67.0 L10.3 -67.7 L5.5 -67.5 L2.1 -66.6 L-0.6 -64.5 Z M-62.8 -21.2 L-59.5 -22.1 L-57.0 -21.2 L-56.2 -19.2 L-57.9 -17.1 L-60.3 -15.9 L-62.4 -15.5 L-62.8 -18.8 L-62.8 -21.2 M-66.1 -18.4 L-65.2 -19.0 L-64.3 -18.3 L-64.6 -17.1 L-65.6 -16.8 L-66.1 -18.4 M-82.5 -51.9 L-81.9 -51.9 L-82.1 -46.2 L-82.7 -46.2 L-82.5 -51.9 M-74.0 -70.8 L-72.3 -71.6 M-11.7 33.0 L-10.4 31.7 L-9.8 33.9 L-11.2 36.6 L-12.0 34.8 L-11.7 33.0 M7.9 41.8 L9.9 41.2 M-76.1 -51.5 L-76.5 -47.4 L-76.3 -43.3 L-75.1 -40.1 L-73.4 -36.8 L-72.2 -33.5 L-71.6 -31.1 M-79.1 -40.9 L-77.5 -40.1 L-78.3 -38.3" fill="none" stroke="#000" stroke-width="1.1" stroke-linejoin="round"/>
<circle cx="0" cy="0" r="122.3" fill="none" stroke="#111" stroke-width="1"/>
</g>
<text x="88.0" y="386.9" font-size="10.40" text-anchor="start"  fill="#000" font-family="Liberation Sans, sans-serif"  stroke="#fff" stroke-width="0.22" textLength="36.8" lengthAdjust="spacing" xml:space="preserve">MEAN=</text>
<text x="136.2" y="386.9" font-size="10.60" text-anchor="start"  fill="#000" font-family="Liberation Sans, sans-serif"  stroke="#fff" stroke-width="0.22" textLength="31.0" lengthAdjust="spacing" xml:space="preserve">66.89</text>
<text x="177.2" y="386.9" font-size="10.60" text-anchor="start"  fill="#000" font-family="Liberation Sans, sans-serif"  stroke="#fff" stroke-width="0.22" textLength="26.0" lengthAdjust="spacing" xml:space="preserve">Min=</text>
<text x="219.2" y="386.9" font-size="10.60" text-anchor="start"  fill="#000" font-family="Liberation Sans, sans-serif"  stroke="#fff" stroke-width="0.22" textLength="24.6" lengthAdjust="spacing" xml:space="preserve">0.00</text>
<text x="254.2" y="386.9" font-size="10.60" text-anchor="start"  fill="#000" font-family="Liberation Sans, sans-serif"  stroke="#fff" stroke-width="0.22" textLength="28.6" lengthAdjust="spacing" xml:space="preserve">Max=</text>
<text x="294.2" y="386.9" font-size="10.60" text-anchor="start"  fill="#000" font-family="Liberation Sans, sans-serif"  stroke="#fff" stroke-width="0.22" textLength="29.6" lengthAdjust="spacing" xml:space="preserve">94.51</text>
<rect x="86.50" y="395.50" width="14.88" height="11.60" fill="#00008F" stroke="#1a1a1a" stroke-width="0.7"/>
<rect x="101.38" y="395.50" width="14.88" height="11.60" fill="#0020B4" stroke="#1a1a1a" stroke-width="0.7"/>
<rect x="116.25" y="395.50" width="14.88" height="11.60" fill="#0032DC" stroke="#1a1a1a" stroke-width="0.7"/>
<rect x="131.12" y="395.50" width="14.88" height="11.60" fill="#1E50FF" stroke="#1a1a1a" stroke-width="0.7"/>
<rect x="146.00" y="395.50" width="14.88" height="11.60" fill="#4678FF" stroke="#1a1a1a" stroke-width="0.7"/>
<rect x="160.88" y="395.50" width="14.88" height="11.60" fill="#82AAFF" stroke="#1a1a1a" stroke-width="0.7"/>
<rect x="175.75" y="395.50" width="14.88" height="11.60" fill="#B4CDFF" stroke="#1a1a1a" stroke-width="0.7"/>
<rect x="190.62" y="395.50" width="14.88" height="11.60" fill="#D7E8FF" stroke="#1a1a1a" stroke-width="0.7"/>
<rect x="205.50" y="395.50" width="14.88" height="11.60" fill="#FFEBD7" stroke="#1a1a1a" stroke-width="0.7"/>
<rect x="220.38" y="395.50" width="14.88" height="11.60" fill="#FFCDB4" stroke="#1a1a1a" stroke-width="0.7"/>
<rect x="235.25" y="395.50" width="14.88" height="11.60" fill="#FFAA87" stroke="#1a1a1a" stroke-width="0.7"/>
<rect x="250.12" y="395.50" width="14.88" height="11.60" fill="#FF7841" stroke="#1a1a1a" stroke-width="0.7"/>
<rect x="265.00" y="395.50" width="14.88" height="11.60" fill="#FF5019" stroke="#1a1a1a" stroke-width="0.7"/>
<rect x="279.88" y="395.50" width="14.88" height="11.60" fill="#E13200" stroke="#1a1a1a" stroke-width="0.7"/>
<rect x="294.75" y="395.50" width="14.88" height="11.60" fill="#BE2300" stroke="#1a1a1a" stroke-width="0.7"/>
<rect x="309.62" y="395.50" width="14.88" height="11.60" fill="#8C0000" stroke="#1a1a1a" stroke-width="0.7"/>
<text x="101.4" y="420.7" text-anchor="middle" font-size="10.6" fill="#000" font-family="Liberation Sans, sans-serif" stroke="#fff" stroke-width="0.22">5</text>
<text x="131.1" y="420.7" text-anchor="middle" font-size="10.6" fill="#000" font-family="Liberation Sans, sans-serif" stroke="#fff" stroke-width="0.22">15</text>
<text x="160.9" y="420.7" text-anchor="middle" font-size="10.6" fill="#000" font-family="Liberation Sans, sans-serif" stroke="#fff" stroke-width="0.22">25</text>
<text x="190.6" y="420.7" text-anchor="middle" font-size="10.6" fill="#000" font-family="Liberation Sans, sans-serif" stroke="#fff" stroke-width="0.22">40</text>
<text x="220.4" y="420.7" text-anchor="middle" font-size="10.6" fill="#000" font-family="Liberation Sans, sans-serif" stroke="#fff" stroke-width="0.22">60</text>
<text x="250.1" y="420.7" text-anchor="middle" font-size="10.6" fill="#000" font-family="Liberation Sans, sans-serif" stroke="#fff" stroke-width="0.22">75</text>
<text x="279.9" y="420.7" text-anchor="middle" font-size="10.6" fill="#000" font-family="Liberation Sans, sans-serif" stroke="#fff" stroke-width="0.22">85</text>
<text x="309.6" y="420.7" text-anchor="middle" font-size="10.6" fill="#000" font-family="Liberation Sans, sans-serif" stroke="#fff" stroke-width="0.22">95</text>
<text x="409.0" y="386.9" font-size="10.40" text-anchor="start"  fill="#000" font-family="Liberation Sans, sans-serif"  stroke="#fff" stroke-width="0.22" textLength="36.8" lengthAdjust="spacing" xml:space="preserve">MEAN=</text>
<text x="457.2" y="386.9" font-size="10.60" text-anchor="start"  fill="#000" font-family="Liberation Sans, sans-serif"  stroke="#fff" stroke-width="0.22" textLength="31.0" lengthAdjust="spacing" xml:space="preserve">59.56</text>
<text x="498.2" y="386.9" font-size="10.60" text-anchor="start"  fill="#000" font-family="Liberation Sans, sans-serif"  stroke="#fff" stroke-width="0.22" textLength="26.0" lengthAdjust="spacing" xml:space="preserve">Min=</text>
<text x="540.2" y="386.9" font-size="10.60" text-anchor="start"  fill="#000" font-family="Liberation Sans, sans-serif"  stroke="#fff" stroke-width="0.22" textLength="24.6" lengthAdjust="spacing" xml:space="preserve">0.00</text>
<text x="575.2" y="386.9" font-size="10.60" text-anchor="start"  fill="#000" font-family="Liberation Sans, sans-serif"  stroke="#fff" stroke-width="0.22" textLength="28.6" lengthAdjust="spacing" xml:space="preserve">Max=</text>
<text x="615.2" y="386.9" font-size="10.60" text-anchor="start"  fill="#000" font-family="Liberation Sans, sans-serif"  stroke="#fff" stroke-width="0.22" textLength="29.6" lengthAdjust="spacing" xml:space="preserve">85.45</text>
<rect x="407.50" y="395.50" width="14.88" height="11.60" fill="#00008F" stroke="#1a1a1a" stroke-width="0.7"/>
<rect x="422.38" y="395.50" width="14.88" height="11.60" fill="#0020B4" stroke="#1a1a1a" stroke-width="0.7"/>
<rect x="437.25" y="395.50" width="14.88" height="11.60" fill="#0032DC" stroke="#1a1a1a" stroke-width="0.7"/>
<rect x="452.12" y="395.50" width="14.88" height="11.60" fill="#1E50FF" stroke="#1a1a1a" stroke-width="0.7"/>
<rect x="467.00" y="395.50" width="14.88" height="11.60" fill="#4678FF" stroke="#1a1a1a" stroke-width="0.7"/>
<rect x="481.88" y="395.50" width="14.88" height="11.60" fill="#82AAFF" stroke="#1a1a1a" stroke-width="0.7"/>
<rect x="496.75" y="395.50" width="14.88" height="11.60" fill="#B4CDFF" stroke="#1a1a1a" stroke-width="0.7"/>
<rect x="511.62" y="395.50" width="14.88" height="11.60" fill="#D7E8FF" stroke="#1a1a1a" stroke-width="0.7"/>
<rect x="526.50" y="395.50" width="14.88" height="11.60" fill="#FFEBD7" stroke="#1a1a1a" stroke-width="0.7"/>
<rect x="541.38" y="395.50" width="14.88" height="11.60" fill="#FFCDB4" stroke="#1a1a1a" stroke-width="0.7"/>
<rect x="556.25" y="395.50" width="14.88" height="11.60" fill="#FFAA87" stroke="#1a1a1a" stroke-width="0.7"/>
<rect x="571.12" y="395.50" width="14.88" height="11.60" fill="#FF7841" stroke="#1a1a1a" stroke-width="0.7"/>
<rect x="586.00" y="395.50" width="14.88" height="11.60" fill="#FF5019" stroke="#1a1a1a" stroke-width="0.7"/>
<rect x="600.88" y="395.50" width="14.88" height="11.60" fill="#E13200" stroke="#1a1a1a" stroke-width="0.7"/>
<rect x="615.75" y="395.50" width="14.88" height="11.60" fill="#BE2300" stroke="#1a1a1a" stroke-width="0.7"/>
<rect x="630.62" y="395.50" width="14.88" height="11.60" fill="#8C0000" stroke="#1a1a1a" stroke-width="0.7"/>
<text x="422.4" y="420.7" text-anchor="middle" font-size="10.6" fill="#000" font-family="Liberation Sans, sans-serif" stroke="#fff" stroke-width="0.22">5</text>
<text x="452.1" y="420.7" text-anchor="middle" font-size="10.6" fill="#000" font-family="Liberation Sans, sans-serif" stroke="#fff" stroke-width="0.22">15</text>
<text x="481.9" y="420.7" text-anchor="middle" font-size="10.6" fill="#000" font-family="Liberation Sans, sans-serif" stroke="#fff" stroke-width="0.22">25</text>
<text x="511.6" y="420.7" text-anchor="middle" font-size="10.6" fill="#000" font-family="Liberation Sans, sans-serif" stroke="#fff" stroke-width="0.22">40</text>
<text x="541.4" y="420.7" text-anchor="middle" font-size="10.6" fill="#000" font-family="Liberation Sans, sans-serif" stroke="#fff" stroke-width="0.22">60</text>
<text x="571.1" y="420.7" text-anchor="middle" font-size="10.6" fill="#000" font-family="Liberation Sans, sans-serif" stroke="#fff" stroke-width="0.22">75</text>
<text x="600.9" y="420.7" text-anchor="middle" font-size="10.6" fill="#000" font-family="Liberation Sans, sans-serif" stroke="#fff" stroke-width="0.22">85</text>
<text x="630.6" y="420.7" text-anchor="middle" font-size="10.6" fill="#000" font-family="Liberation Sans, sans-serif" stroke="#fff" stroke-width="0.22">95</text>
<text x="502.0" y="535.5" font-size="10.40" text-anchor="start"  fill="#000" font-family="Liberation Sans, sans-serif"  stroke="#fff" stroke-width="0.22" textLength="159.0" lengthAdjust="spacing" xml:space="preserve">MIN = −18.81 MAX =  36.66</text>
<rect x="555.10" y="742.24" width="29.30" height="12.36" fill="#00008F" stroke="#1a1a1a" stroke-width="0.7"/>
<rect x="555.10" y="729.89" width="29.30" height="12.36" fill="#0020B4" stroke="#1a1a1a" stroke-width="0.7"/>
<rect x="555.10" y="717.53" width="29.30" height="12.36" fill="#0032DC" stroke="#1a1a1a" stroke-width="0.7"/>
<rect x="555.10" y="705.17" width="29.30" height="12.36" fill="#1E50FF" stroke="#1a1a1a" stroke-width="0.7"/>
<rect x="555.10" y="692.82" width="29.30" height="12.36" fill="#4678FF" stroke="#1a1a1a" stroke-width="0.7"/>
<rect x="555.10" y="680.46" width="29.30" height="12.36" fill="#82AAFF" stroke="#1a1a1a" stroke-width="0.7"/>
<rect x="555.10" y="668.11" width="29.30" height="12.36" fill="#B4CDFF" stroke="#1a1a1a" stroke-width="0.7"/>
<rect x="555.10" y="655.75" width="29.30" height="12.36" fill="#D7E8FF" stroke="#1a1a1a" stroke-width="0.7"/>
<rect x="555.10" y="643.39" width="29.30" height="12.36" fill="#FFEBD7" stroke="#1a1a1a" stroke-width="0.7"/>
<rect x="555.10" y="631.04" width="29.30" height="12.36" fill="#FFCDB4" stroke="#1a1a1a" stroke-width="0.7"/>
<rect x="555.10" y="618.68" width="29.30" height="12.36" fill="#FFAA87" stroke="#1a1a1a" stroke-width="0.7"/>
<rect x="555.10" y="606.32" width="29.30" height="12.36" fill="#FF7841" stroke="#1a1a1a" stroke-width="0.7"/>
<rect x="555.10" y="593.97" width="29.30" height="12.36" fill="#FF5019" stroke="#1a1a1a" stroke-width="0.7"/>
<rect x="555.10" y="581.61" width="29.30" height="12.36" fill="#E13200" stroke="#1a1a1a" stroke-width="0.7"/>
<rect x="555.10" y="569.26" width="29.30" height="12.36" fill="#BE2300" stroke="#1a1a1a" stroke-width="0.7"/>
<rect x="555.10" y="556.90" width="29.30" height="12.36" fill="#8C0000" stroke="#1a1a1a" stroke-width="0.7"/>
<text x="598.4" y="573.1" text-anchor="middle" font-size="10.6" fill="#000" font-family="Liberation Sans, sans-serif" letter-spacing="0.35" stroke="#fff" stroke-width="0.22">50</text>
<text x="598.4" y="585.4" text-anchor="middle" font-size="10.6" fill="#000" font-family="Liberation Sans, sans-serif" letter-spacing="0.35" stroke="#fff" stroke-width="0.22">40</text>
<text x="598.4" y="597.8" text-anchor="middle" font-size="10.6" fill="#000" font-family="Liberation Sans, sans-serif" letter-spacing="0.35" stroke="#fff" stroke-width="0.22">30</text>
<text x="598.4" y="610.1" text-anchor="middle" font-size="10.6" fill="#000" font-family="Liberation Sans, sans-serif" letter-spacing="0.35" stroke="#fff" stroke-width="0.22">20</text>
<text x="598.4" y="622.5" text-anchor="middle" font-size="10.6" fill="#000" font-family="Liberation Sans, sans-serif" letter-spacing="0.35" stroke="#fff" stroke-width="0.22">15</text>
<text x="598.4" y="634.8" text-anchor="middle" font-size="10.6" fill="#000" font-family="Liberation Sans, sans-serif" letter-spacing="0.35" stroke="#fff" stroke-width="0.22">10</text>
<text x="598.4" y="647.2" text-anchor="middle" font-size="10.6" fill="#000" font-family="Liberation Sans, sans-serif" letter-spacing="0.35" stroke="#fff" stroke-width="0.22">5</text>
<text x="598.4" y="659.5" text-anchor="middle" font-size="10.6" fill="#000" font-family="Liberation Sans, sans-serif" letter-spacing="0.35" stroke="#fff" stroke-width="0.22">0</text>
<text x="598.4" y="671.9" text-anchor="middle" font-size="10.6" fill="#000" font-family="Liberation Sans, sans-serif" letter-spacing="0.35" stroke="#fff" stroke-width="0.22">−5</text>
<text x="598.4" y="684.3" text-anchor="middle" font-size="10.6" fill="#000" font-family="Liberation Sans, sans-serif" letter-spacing="0.35" stroke="#fff" stroke-width="0.22">−10</text>
<text x="598.4" y="696.6" text-anchor="middle" font-size="10.6" fill="#000" font-family="Liberation Sans, sans-serif" letter-spacing="0.35" stroke="#fff" stroke-width="0.22">−15</text>
<text x="598.4" y="709.0" text-anchor="middle" font-size="10.6" fill="#000" font-family="Liberation Sans, sans-serif" letter-spacing="0.35" stroke="#fff" stroke-width="0.22">−20</text>
<text x="598.4" y="721.3" text-anchor="middle" font-size="10.6" fill="#000" font-family="Liberation Sans, sans-serif" letter-spacing="0.35" stroke="#fff" stroke-width="0.22">−30</text>
<text x="598.4" y="733.7" text-anchor="middle" font-size="10.6" fill="#000" font-family="Liberation Sans, sans-serif" letter-spacing="0.35" stroke="#fff" stroke-width="0.22">−40</text>
<text x="598.4" y="746.0" text-anchor="middle" font-size="10.6" fill="#000" font-family="Liberation Sans, sans-serif" letter-spacing="0.35" stroke="#fff" stroke-width="0.22">−50</text>
</svg></body></html>
